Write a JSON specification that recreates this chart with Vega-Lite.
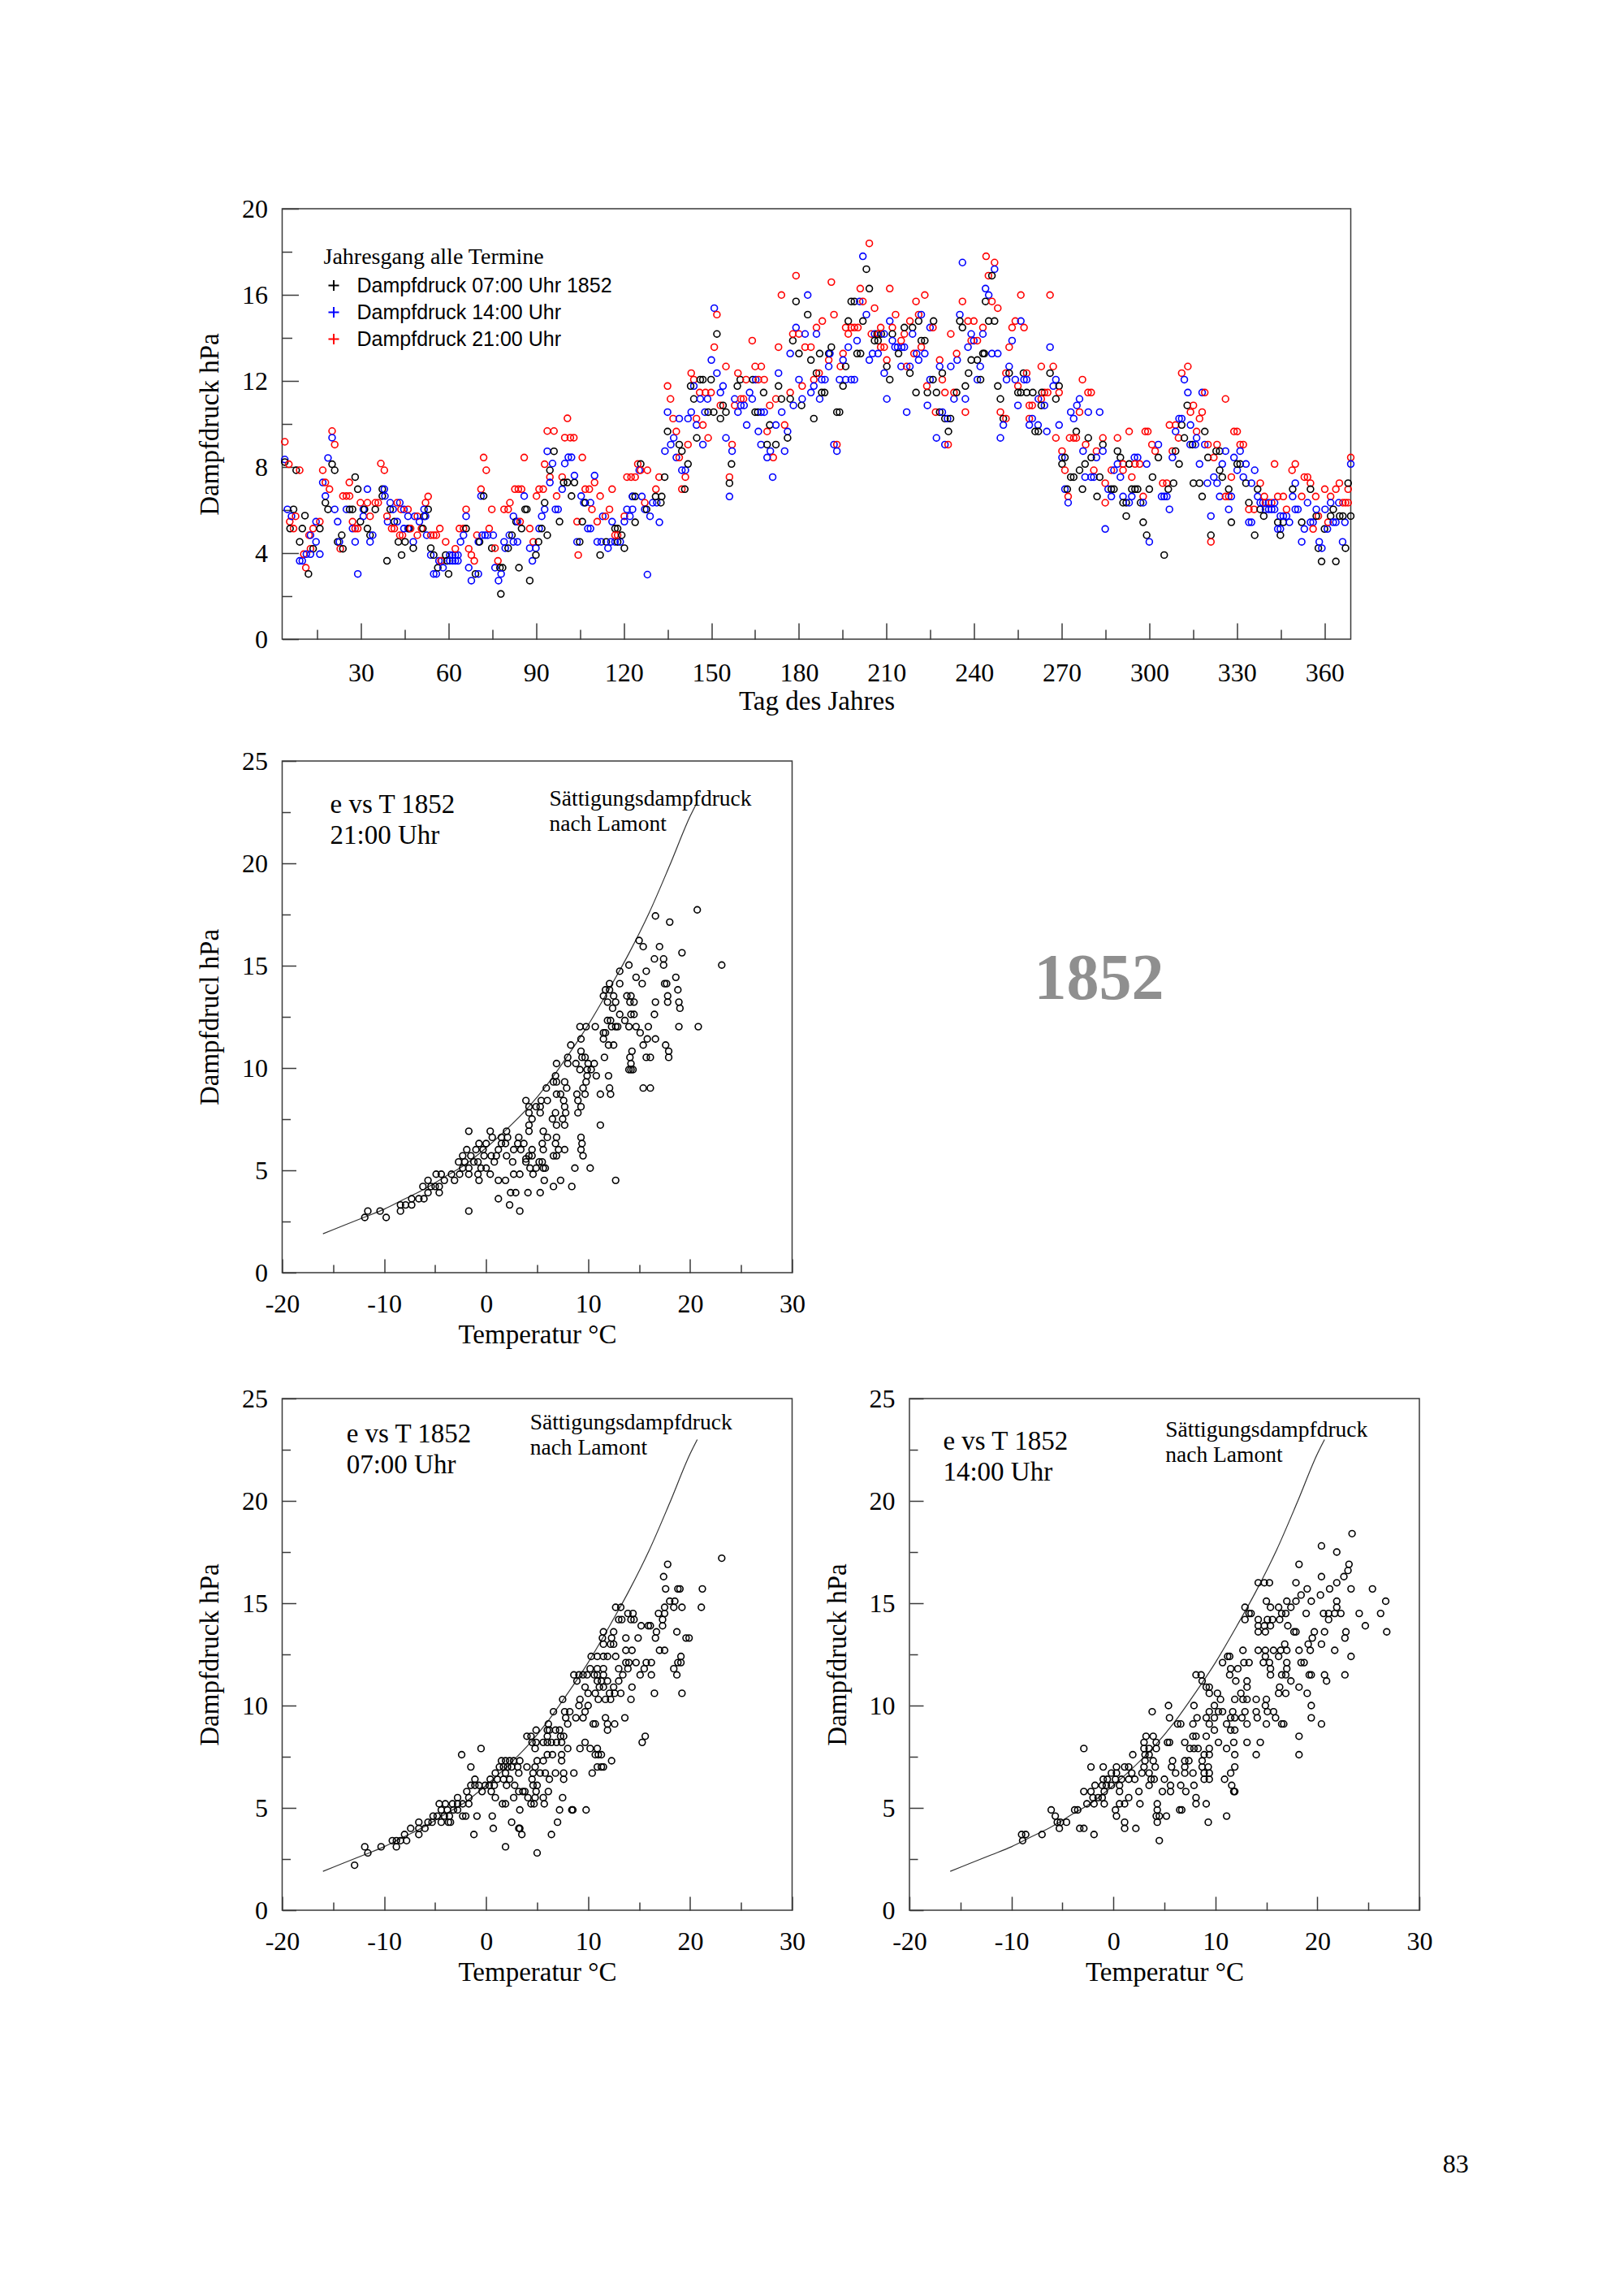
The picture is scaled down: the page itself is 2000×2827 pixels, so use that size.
{
"$schema": "https://vega.github.io/schema/vega-lite/v6.json",
"background": "white",
"autosize": {"type": "pad"},
"padding": {"left": 241.5, "top": 240, "right": 20, "bottom": 20},
"title": {"text": "83", "orient": "bottom", "anchor": "end", "offset": 204, "dx": 44, "font": "Liberation Serif", "fontSize": 32, "fontWeight": "normal", "color": "#000000"},
"config": {
  "font": "Liberation Serif",
  "view": {"stroke": "#3a3a3a", "strokeWidth": 1.5},
  "axis": {"grid": false, "domain": false, "tickColor": "#3a3a3a", "tickWidth": 1.5, "labelFont": "Liberation Serif", "labelFontSize": 32, "labelColor": "#000000", "labelFlush": false, "labelOverlap": false, "titleFont": "Liberation Serif", "titleFontSize": 33, "titleFontWeight": "normal", "titleColor": "#000000"},
  "text": {"font": "Liberation Serif", "color": "#000000"}
},
"datasets": {
"top": [
{"d":3.9,"e":9.17,"s":"c"},{"d":3.9,"e":8.35,"s":"b"},{"d":3.9,"e":8.23,"s":"a"},{"d":5.3,"e":8.13,"s":"c"},{"d":7.8,"e":7.85,"s":"a"},{"d":9.0,"e":7.85,"s":"c"},{"d":4.8,"e":6.03,"s":"b"},{"d":6.9,"e":6.03,"s":"a"},{"d":5.6,"e":5.46,"s":"c"},{"d":6.2,"e":5.71,"s":"b"},{"d":5.7,"e":5.14,"s":"a"},{"d":6.9,"e":5.14,"s":"c"},{"d":9.9,"e":5.14,"s":"a"},{"d":7.6,"e":5.71,"s":"c"},{"d":9.0,"e":4.52,"s":"a"},{"d":10.8,"e":5.74,"s":"a"},{"d":9.0,"e":3.64,"s":"b"},{"d":9.9,"e":3.64,"s":"b"},{"d":10.4,"e":3.95,"s":"c"},{"d":11.3,"e":3.95,"s":"b"},{"d":11.1,"e":3.32,"s":"c"},{"d":12.0,"e":3.03,"s":"a"},{"d":12.2,"e":4.83,"s":"c"},{"d":12.7,"e":4.83,"s":"b"},{"d":12.7,"e":4.2,"s":"c"},{"d":13.6,"e":4.2,"s":"a"},{"d":12.7,"e":3.95,"s":"b"},{"d":13.6,"e":5.14,"s":"c"},{"d":14.6,"e":4.52,"s":"b"},{"d":14.6,"e":5.46,"s":"b"},{"d":15.9,"e":5.46,"s":"c"},{"d":15.9,"e":5.14,"s":"a"},{"d":15.9,"e":3.95,"s":"b"},{"d":16.9,"e":7.85,"s":"c"},{"d":16.9,"e":7.28,"s":"b"},{"d":17.8,"e":7.28,"s":"c"},{"d":19.2,"e":6.97,"s":"c"},{"d":17.8,"e":6.65,"s":"b"},{"d":17.8,"e":6.34,"s":"a"},{"d":18.7,"e":6.03,"s":"a"},{"d":21.0,"e":6.03,"s":"b"},{"d":20.1,"e":9.67,"s":"c"},{"d":20.1,"e":9.36,"s":"b"},{"d":21.0,"e":9.04,"s":"c"},{"d":18.7,"e":8.42,"s":"b"},{"d":20.1,"e":8.13,"s":"a"},{"d":21.0,"e":7.85,"s":"a"},{"d":22.0,"e":4.52,"s":"a"},{"d":22.6,"e":4.52,"s":"b"},{"d":23.4,"e":4.83,"s":"a"},{"d":22.9,"e":4.2,"s":"c"},{"d":23.8,"e":4.2,"s":"a"},{"d":23.8,"e":6.65,"s":"c"},{"d":25.0,"e":6.65,"s":"c"},{"d":26.1,"e":6.65,"s":"c"},{"d":25.0,"e":6.03,"s":"b"},{"d":26.1,"e":6.03,"s":"a"},{"d":27.1,"e":6.03,"s":"a"},{"d":26.0,"e":7.28,"s":"c"},{"d":22.0,"e":5.46,"s":"b"},{"d":28.0,"e":7.53,"s":"a"},{"d":28.9,"e":6.97,"s":"a"},{"d":32.2,"e":6.97,"s":"b"},{"d":27.1,"e":5.46,"s":"c"},{"d":27.1,"e":5.14,"s":"b"},{"d":28.0,"e":5.14,"s":"c"},{"d":28.9,"e":5.14,"s":"c"},{"d":28.0,"e":4.52,"s":"b"},{"d":28.9,"e":3.03,"s":"b"},{"d":29.8,"e":6.34,"s":"c"},{"d":29.8,"e":5.46,"s":"a"},{"d":30.8,"e":6.03,"s":"b"},{"d":30.8,"e":5.71,"s":"b"},{"d":31.2,"e":6.03,"s":"a"},{"d":32.2,"e":6.34,"s":"c"},{"d":33.1,"e":5.71,"s":"c"},{"d":32.2,"e":5.14,"s":"a"},{"d":33.1,"e":4.83,"s":"a"},{"d":33.1,"e":4.52,"s":"b"},{"d":34.0,"e":4.83,"s":"b"},{"d":34.9,"e":6.34,"s":"c"},{"d":34.9,"e":6.03,"s":"a"},{"d":35.9,"e":6.34,"s":"c"},{"d":36.8,"e":8.16,"s":"c"},{"d":38.0,"e":7.85,"s":"c"},{"d":37.3,"e":6.97,"s":"a"},{"d":38.0,"e":6.97,"s":"b"},{"d":37.3,"e":6.65,"s":"a"},{"d":38.2,"e":6.65,"s":"b"},{"d":39.1,"e":5.46,"s":"b"},{"d":38.9,"e":5.71,"s":"c"},{"d":38.9,"e":3.64,"s":"a"},{"d":40.0,"e":6.34,"s":"b"},{"d":42.4,"e":6.34,"s":"c"},{"d":43.3,"e":6.34,"s":"b"},{"d":40.0,"e":6.03,"s":"a"},{"d":41.0,"e":6.03,"s":"b"},{"d":40.5,"e":5.14,"s":"c"},{"d":41.4,"e":5.46,"s":"a"},{"d":42.4,"e":5.46,"s":"b"},{"d":41.4,"e":5.14,"s":"c"},{"d":42.8,"e":4.52,"s":"a"},{"d":43.9,"e":3.91,"s":"a"},{"d":43.3,"e":4.83,"s":"c"},{"d":44.2,"e":4.83,"s":"c"},{"d":45.1,"e":4.52,"s":"a"},{"d":47.9,"e":4.52,"s":"b"},{"d":43.7,"e":6.03,"s":"c"},{"d":44.7,"e":6.03,"s":"b"},{"d":46.1,"e":6.03,"s":"c"},{"d":44.7,"e":5.14,"s":"b"},{"d":46.1,"e":5.14,"s":"b"},{"d":46.5,"e":5.14,"s":"a"},{"d":47.0,"e":5.14,"s":"c"},{"d":46.1,"e":5.71,"s":"b"},{"d":48.4,"e":5.71,"s":"b"},{"d":49.3,"e":5.71,"s":"c"},{"d":51.6,"e":5.71,"s":"a"},{"d":47.9,"e":4.23,"s":"a"},{"d":49.3,"e":4.83,"s":"c"},{"d":50.0,"e":5.46,"s":"b"},{"d":52.1,"e":6.34,"s":"c"},{"d":53.0,"e":6.63,"s":"c"},{"d":51.6,"e":6.03,"s":"b"},{"d":53.0,"e":6.03,"s":"a"},{"d":52.1,"e":5.71,"s":"b"},{"d":50.7,"e":5.14,"s":"c"},{"d":51.2,"e":5.14,"s":"a"},{"d":52.5,"e":4.83,"s":"b"},{"d":53.9,"e":4.83,"s":"c"},{"d":54.9,"e":4.83,"s":"c"},{"d":55.8,"e":4.83,"s":"c"},{"d":57.0,"e":5.14,"s":"c"},{"d":53.9,"e":4.23,"s":"a"},{"d":53.9,"e":3.91,"s":"b"},{"d":54.9,"e":3.91,"s":"a"},{"d":54.9,"e":3.03,"s":"b"},{"d":55.8,"e":3.03,"s":"b"},{"d":56.3,"e":3.32,"s":"a"},{"d":56.7,"e":3.64,"s":"b"},{"d":57.6,"e":3.64,"s":"b"},{"d":57.4,"e":3.64,"s":"c"},{"d":58.1,"e":3.32,"s":"b"},{"d":59.0,"e":4.52,"s":"c"},{"d":59.0,"e":3.91,"s":"a"},{"d":60.0,"e":3.03,"s":"a"},{"d":60.4,"e":3.91,"s":"b"},{"d":61.4,"e":3.91,"s":"b"},{"d":62.3,"e":3.91,"s":"b"},{"d":63.2,"e":3.91,"s":"b"},{"d":59.5,"e":3.64,"s":"a"},{"d":60.4,"e":3.64,"s":"b"},{"d":61.4,"e":3.64,"s":"b"},{"d":62.3,"e":3.64,"s":"b"},{"d":63.2,"e":3.64,"s":"b"},{"d":62.3,"e":4.2,"s":"c"},{"d":63.7,"e":5.14,"s":"c"},{"d":65.1,"e":5.14,"s":"c"},{"d":66.0,"e":5.14,"s":"a"},{"d":65.1,"e":4.83,"s":"b"},{"d":64.1,"e":4.52,"s":"b"},{"d":66.0,"e":6.03,"s":"c"},{"d":66.0,"e":5.71,"s":"b"},{"d":66.9,"e":4.2,"s":"c"},{"d":67.8,"e":3.91,"s":"c"},{"d":68.8,"e":3.64,"s":"c"},{"d":66.9,"e":3.32,"s":"b"},{"d":67.8,"e":2.72,"s":"b"},{"d":69.2,"e":3.03,"s":"a"},{"d":70.2,"e":3.03,"s":"b"},{"d":69.7,"e":4.83,"s":"c"},{"d":70.2,"e":4.52,"s":"b"},{"d":70.6,"e":4.52,"s":"a"},{"d":71.5,"e":4.83,"s":"b"},{"d":72.5,"e":4.83,"s":"b"},{"d":73.4,"e":4.83,"s":"b"},{"d":75.3,"e":4.83,"s":"b"},{"d":71.1,"e":6.97,"s":"c"},{"d":71.1,"e":6.65,"s":"b"},{"d":72.0,"e":6.65,"s":"a"},{"d":72.0,"e":8.44,"s":"c"},{"d":72.9,"e":7.85,"s":"c"},{"d":73.9,"e":5.14,"s":"c"},{"d":74.8,"e":6.03,"s":"c"},{"d":74.8,"e":4.23,"s":"a"},{"d":75.9,"e":4.23,"s":"c"},{"d":75.9,"e":3.32,"s":"b"},{"d":76.9,"e":3.64,"s":"c"},{"d":77.6,"e":3.32,"s":"a"},{"d":77.1,"e":2.72,"s":"b"},{"d":78.5,"e":3.32,"s":"a"},{"d":78.0,"e":3.03,"s":"b"},{"d":77.9,"e":2.1,"s":"a"},{"d":79.0,"e":4.52,"s":"b"},{"d":79.4,"e":4.23,"s":"b"},{"d":80.4,"e":4.23,"s":"a"},{"d":80.8,"e":4.83,"s":"b"},{"d":81.7,"e":4.83,"s":"a"},{"d":82.2,"e":4.52,"s":"b"},{"d":83.6,"e":4.52,"s":"b"},{"d":79.0,"e":6.03,"s":"c"},{"d":80.4,"e":6.03,"s":"c"},{"d":81.0,"e":6.34,"s":"c"},{"d":82.2,"e":5.71,"s":"b"},{"d":82.7,"e":6.97,"s":"c"},{"d":83.9,"e":6.97,"s":"c"},{"d":85.0,"e":6.97,"s":"c"},{"d":83.1,"e":5.46,"s":"a"},{"d":83.6,"e":5.46,"s":"b"},{"d":84.5,"e":5.46,"s":"c"},{"d":85.0,"e":5.14,"s":"a"},{"d":84.1,"e":3.32,"s":"a"},{"d":85.9,"e":6.65,"s":"b"},{"d":85.9,"e":8.44,"s":"c"},{"d":86.2,"e":6.03,"s":"a"},{"d":86.8,"e":6.03,"s":"a"},{"d":87.8,"e":5.14,"s":"c"},{"d":87.8,"e":4.23,"s":"b"},{"d":88.7,"e":3.64,"s":"b"},{"d":89.0,"e":4.52,"s":"c"},{"d":89.9,"e":4.23,"s":"b"},{"d":89.9,"e":3.91,"s":"a"},{"d":90.8,"e":4.52,"s":"a"},{"d":87.8,"e":2.72,"s":"a"},{"d":90.1,"e":6.65,"s":"c"},{"d":91.0,"e":6.97,"s":"c"},{"d":92.4,"e":6.97,"s":"c"},{"d":91.0,"e":5.14,"s":"b"},{"d":91.9,"e":5.14,"s":"a"},{"d":93.8,"e":4.83,"s":"a"},{"d":91.9,"e":5.71,"s":"b"},{"d":92.9,"e":6.03,"s":"b"},{"d":92.9,"e":6.34,"s":"a"},{"d":92.9,"e":8.13,"s":"c"},{"d":94.7,"e":7.53,"s":"c"},{"d":94.7,"e":7.85,"s":"a"},{"d":93.8,"e":8.73,"s":"b"},{"d":96.1,"e":8.73,"s":"a"},{"d":93.8,"e":9.67,"s":"c"},{"d":96.1,"e":9.67,"s":"c"},{"d":94.7,"e":7.28,"s":"b"},{"d":95.6,"e":8.16,"s":"b"},{"d":97.0,"e":6.65,"s":"c"},{"d":96.6,"e":6.03,"s":"b"},{"d":97.5,"e":6.03,"s":"b"},{"d":98.0,"e":5.46,"s":"a"},{"d":98.9,"e":6.97,"s":"b"},{"d":98.9,"e":7.53,"s":"c"},{"d":99.4,"e":7.28,"s":"a"},{"d":100.7,"e":7.28,"s":"a"},{"d":103.1,"e":7.28,"s":"a"},{"d":99.8,"e":8.16,"s":"b"},{"d":101.0,"e":8.45,"s":"b"},{"d":102.1,"e":8.45,"s":"b"},{"d":100.7,"e":10.26,"s":"c"},{"d":99.8,"e":9.36,"s":"c"},{"d":101.7,"e":9.36,"s":"c"},{"d":102.9,"e":9.36,"s":"c"},{"d":102.1,"e":6.65,"s":"a"},{"d":103.1,"e":7.6,"s":"b"},{"d":104.0,"e":5.46,"s":"c"},{"d":105.8,"e":5.46,"s":"a"},{"d":104.4,"e":3.91,"s":"c"},{"d":104.0,"e":4.52,"s":"b"},{"d":104.9,"e":4.52,"s":"a"},{"d":105.8,"e":8.44,"s":"c"},{"d":105.4,"e":6.65,"s":"b"},{"d":106.3,"e":6.34,"s":"b"},{"d":106.8,"e":6.34,"s":"a"},{"d":108.6,"e":6.34,"s":"b"},{"d":107.7,"e":5.14,"s":"b"},{"d":108.6,"e":5.14,"s":"b"},{"d":106.8,"e":6.97,"s":"c"},{"d":108.2,"e":6.97,"s":"c"},{"d":109.1,"e":6.03,"s":"c"},{"d":110.0,"e":7.28,"s":"c"},{"d":110.0,"e":7.6,"s":"b"},{"d":110.9,"e":5.46,"s":"c"},{"d":111.9,"e":6.65,"s":"c"},{"d":111.9,"e":3.91,"s":"a"},{"d":110.9,"e":4.52,"s":"b"},{"d":112.3,"e":4.52,"s":"b"},{"d":112.8,"e":5.71,"s":"b"},{"d":113.7,"e":5.71,"s":"c"},{"d":114.0,"e":4.52,"s":"a"},{"d":114.6,"e":4.23,"s":"b"},{"d":115.6,"e":4.52,"s":"b"},{"d":117.0,"e":4.52,"s":"b"},{"d":117.9,"e":4.52,"s":"a"},{"d":118.8,"e":4.52,"s":"b"},{"d":115.1,"e":6.03,"s":"c"},{"d":116.0,"e":6.97,"s":"c"},{"d":116.0,"e":5.46,"s":"b"},{"d":117.0,"e":5.14,"s":"a"},{"d":117.9,"e":5.14,"s":"a"},{"d":117.0,"e":4.83,"s":"c"},{"d":117.9,"e":4.83,"s":"c"},{"d":119.3,"e":4.83,"s":"a"},{"d":120.2,"e":4.23,"s":"a"},{"d":120.2,"e":5.71,"s":"c"},{"d":120.2,"e":5.46,"s":"b"},{"d":121.1,"e":6.03,"s":"b"},{"d":121.1,"e":7.53,"s":"c"},{"d":122.1,"e":5.71,"s":"b"},{"d":122.5,"e":7.53,"s":"c"},{"d":123.0,"e":6.63,"s":"a"},
{"d":123.0,"e":6.63,"s":"b"},{"d":123.9,"e":6.63,"s":"a"},{"d":126.2,"e":6.63,"s":"b"},{"d":123.0,"e":6.03,"s":"b"},{"d":123.9,"e":5.43,"s":"a"},{"d":123.9,"e":7.53,"s":"c"},{"d":124.8,"e":8.14,"s":"c"},{"d":125.8,"e":8.14,"s":"a"},{"d":125.3,"e":7.85,"s":"b"},{"d":125.8,"e":7.85,"s":"c"},{"d":128.1,"e":7.85,"s":"c"},{"d":127.2,"e":6.34,"s":"c"},{"d":127.2,"e":6.03,"s":"b"},{"d":127.8,"e":6.03,"s":"a"},{"d":129.0,"e":5.71,"s":"b"},{"d":129.9,"e":6.34,"s":"b"},{"d":131.3,"e":6.34,"s":"b"},{"d":132.7,"e":6.34,"s":"a"},{"d":132.2,"e":5.43,"s":"b"},{"d":131.0,"e":6.97,"s":"c"},{"d":130.9,"e":6.63,"s":"a"},{"d":133.0,"e":6.63,"s":"a"},{"d":128.1,"e":3.0,"s":"b"},{"d":132.1,"e":7.53,"s":"c"},{"d":134.0,"e":7.53,"s":"a"},{"d":134.1,"e":8.74,"s":"b"},{"d":135.0,"e":11.76,"s":"c"},{"d":136.0,"e":11.16,"s":"c"},{"d":135.0,"e":10.55,"s":"b"},{"d":135.0,"e":9.65,"s":"a"},{"d":136.1,"e":9.04,"s":"b"},{"d":137.1,"e":9.35,"s":"b"},{"d":138.0,"e":9.65,"s":"c"},{"d":136.9,"e":10.25,"s":"c"},{"d":139.0,"e":10.25,"s":"b"},{"d":138.0,"e":8.44,"s":"b"},{"d":139.0,"e":8.44,"s":"c"},{"d":139.0,"e":9.04,"s":"a"},{"d":139.9,"e":8.74,"s":"a"},{"d":142.0,"e":9.04,"s":"c"},{"d":139.9,"e":7.85,"s":"b"},{"d":141.1,"e":7.85,"s":"b"},{"d":141.1,"e":7.53,"s":"c"},{"d":139.9,"e":6.97,"s":"c"},{"d":140.9,"e":6.97,"s":"a"},{"d":142.0,"e":8.14,"s":"a"},{"d":142.0,"e":10.25,"s":"b"},{"d":143.1,"e":10.55,"s":"b"},{"d":143.1,"e":12.36,"s":"c"},{"d":144.0,"e":12.06,"s":"c"},{"d":144.0,"e":11.76,"s":"b"},{"d":142.9,"e":11.76,"s":"a"},{"d":144.9,"e":10.25,"s":"c"},{"d":144.9,"e":9.95,"s":"b"},{"d":147.1,"e":9.95,"s":"c"},{"d":145.0,"e":9.35,"s":"a"},{"d":147.1,"e":9.04,"s":"b"},{"d":148.9,"e":9.35,"s":"c"},{"d":144.0,"e":11.16,"s":"a"},{"d":146.0,"e":11.46,"s":"c"},{"d":146.2,"e":11.16,"s":"b"},{"d":146.2,"e":12.06,"s":"a"},{"d":147.1,"e":12.06,"s":"a"},{"d":148.0,"e":11.46,"s":"c"},{"d":149.9,"e":11.46,"s":"c"},{"d":148.7,"e":11.16,"s":"b"},{"d":147.8,"e":10.55,"s":"b"},{"d":148.9,"e":10.55,"s":"a"},{"d":150.8,"e":10.55,"s":"a"},{"d":149.9,"e":12.06,"s":"a"},{"d":151.0,"e":15.38,"s":"b"},{"d":151.9,"e":15.08,"s":"c"},{"d":151.9,"e":14.18,"s":"a"},{"d":151.0,"e":13.57,"s":"c"},{"d":150.0,"e":12.97,"s":"b"},{"d":151.9,"e":12.36,"s":"b"},{"d":153.1,"e":11.46,"s":"b"},{"d":154.0,"e":11.76,"s":"b"},{"d":153.1,"e":10.86,"s":"c"},{"d":154.0,"e":10.86,"s":"a"},{"d":153.1,"e":10.25,"s":"a"},{"d":155.0,"e":10.55,"s":"a"},{"d":155.0,"e":12.67,"s":"c"},{"d":155.0,"e":9.35,"s":"b"},{"d":157.1,"e":9.04,"s":"c"},{"d":157.1,"e":8.74,"s":"b"},{"d":156.9,"e":8.14,"s":"a"},{"d":156.2,"e":7.53,"s":"c"},{"d":156.2,"e":7.25,"s":"a"},{"d":156.2,"e":6.63,"s":"b"},{"d":158.0,"e":10.86,"s":"c"},{"d":158.0,"e":11.16,"s":"b"},{"d":158.9,"e":11.76,"s":"a"},{"d":159.9,"e":12.06,"s":"a"},{"d":159.1,"e":12.36,"s":"c"},{"d":160.1,"e":11.16,"s":"c"},{"d":159.1,"e":10.55,"s":"b"},{"d":160.1,"e":10.86,"s":"b"},{"d":161.0,"e":11.16,"s":"c"},{"d":161.2,"e":10.86,"s":"b"},{"d":161.9,"e":12.06,"s":"c"},{"d":163.1,"e":11.46,"s":"b"},{"d":164.0,"e":11.16,"s":"b"},{"d":164.0,"e":13.87,"s":"c"},{"d":164.2,"e":12.06,"s":"a"},{"d":165.2,"e":12.06,"s":"b"},{"d":165.0,"e":12.67,"s":"c"},{"d":166.1,"e":12.06,"s":"c"},{"d":167.1,"e":12.67,"s":"c"},{"d":168.1,"e":12.06,"s":"c"},{"d":167.9,"e":11.46,"s":"a"},{"d":165.0,"e":10.55,"s":"a"},{"d":165.9,"e":10.55,"s":"a"},{"d":167.0,"e":10.55,"s":"b"},{"d":168.1,"e":10.55,"s":"b"},{"d":162.1,"e":9.95,"s":"b"},{"d":166.1,"e":9.65,"s":"b"},{"d":167.0,"e":9.04,"s":"b"},{"d":169.1,"e":9.04,"s":"a"},{"d":170.2,"e":8.74,"s":"b"},{"d":172.1,"e":9.04,"s":"a"},{"d":171.2,"e":8.44,"s":"c"},{"d":169.1,"e":8.44,"s":"b"},{"d":171.0,"e":7.53,"s":"b"},{"d":169.1,"e":9.65,"s":"c"},{"d":170.0,"e":9.95,"s":"a"},{"d":172.1,"e":9.95,"s":"b"},{"d":170.0,"e":10.86,"s":"c"},{"d":172.1,"e":11.16,"s":"c"},{"d":174.0,"e":11.16,"s":"a"},{"d":174.1,"e":10.55,"s":"b"},{"d":173.0,"e":11.76,"s":"a"},{"d":173.0,"e":12.36,"s":"b"},{"d":173.0,"e":13.57,"s":"c"},{"d":174.0,"e":15.99,"s":"c"},{"d":175.1,"e":9.95,"s":"c"},{"d":176.1,"e":9.65,"s":"b"},{"d":176.1,"e":9.35,"s":"a"},{"d":175.1,"e":8.74,"s":"b"},{"d":177.0,"e":11.46,"s":"c"},{"d":177.0,"e":11.16,"s":"a"},{"d":177.9,"e":13.87,"s":"a"},{"d":179.0,"e":14.48,"s":"b"},{"d":177.9,"e":14.18,"s":"c"},{"d":180.0,"e":14.18,"s":"c"},{"d":182.1,"e":14.18,"s":"b"},{"d":180.0,"e":13.27,"s":"a"},{"d":177.0,"e":13.27,"s":"b"},{"d":179.0,"e":15.69,"s":"a"},{"d":179.0,"e":16.89,"s":"c"},{"d":178.1,"e":10.86,"s":"b"},{"d":180.9,"e":10.86,"s":"a"},{"d":181.1,"e":11.16,"s":"b"},{"d":181.1,"e":11.76,"s":"c"},{"d":180.0,"e":12.06,"s":"b"},{"d":183.0,"e":15.99,"s":"b"},{"d":183.0,"e":15.08,"s":"a"},{"d":182.1,"e":13.57,"s":"c"},{"d":184.1,"e":13.57,"s":"c"},{"d":184.1,"e":12.97,"s":"a"},{"d":185.1,"e":12.06,"s":"c"},{"d":185.1,"e":11.76,"s":"b"},{"d":184.1,"e":11.46,"s":"b"},{"d":187.1,"e":11.16,"s":"b"},{"d":186.0,"e":12.36,"s":"a"},{"d":186.9,"e":12.36,"s":"c"},{"d":187.8,"e":11.46,"s":"a"},{"d":188.8,"e":11.46,"s":"a"},{"d":187.8,"e":12.06,"s":"b"},{"d":188.9,"e":12.06,"s":"b"},{"d":185.1,"e":10.25,"s":"a"},{"d":186.0,"e":14.48,"s":"c"},{"d":186.0,"e":14.18,"s":"b"},{"d":188.0,"e":14.78,"s":"c"},{"d":187.1,"e":13.27,"s":"a"},{"d":190.2,"e":12.97,"s":"c"},{"d":190.2,"e":12.67,"s":"b"},{"d":190.2,"e":13.27,"s":"a"},{"d":190.6,"e":13.27,"s":"b"},{"d":191.1,"e":13.57,"s":"a"},{"d":191.1,"e":16.59,"s":"c"},{"d":192.0,"e":15.08,"s":"c"},{"d":192.0,"e":9.04,"s":"b"},{"d":193.0,"e":9.04,"s":"c"},{"d":193.0,"e":8.74,"s":"b"},{"d":193.0,"e":10.55,"s":"a"},{"d":193.9,"e":10.55,"s":"a"},{"d":194.2,"e":12.67,"s":"c"},{"d":196.0,"e":12.67,"s":"a"},{"d":195.1,"e":13.27,"s":"c"},{"d":195.1,"e":12.97,"s":"b"},{"d":193.9,"e":12.06,"s":"b"},{"d":196.0,"e":12.06,"s":"b"},{"d":195.1,"e":11.76,"s":"a"},{"d":196.0,"e":14.48,"s":"c"},{"d":196.9,"e":14.18,"s":"c"},{"d":196.9,"e":14.78,"s":"a"},{"d":196.9,"e":13.57,"s":"b"},{"d":197.9,"e":14.48,"s":"c"},{"d":199.0,"e":14.48,"s":"c"},{"d":200.2,"e":14.48,"s":"c"},{"d":197.9,"e":12.06,"s":"b"},{"d":199.0,"e":12.06,"s":"b"},{"d":197.9,"e":15.69,"s":"a"},{"d":199.0,"e":15.69,"s":"a"},{"d":200.8,"e":15.69,"s":"b"},{"d":201.9,"e":15.69,"s":"c"},{"d":201.0,"e":16.29,"s":"c"},{"d":201.9,"e":17.79,"s":"b"},{"d":204.1,"e":18.39,"s":"c"},{"d":203.1,"e":17.19,"s":"a"},{"d":204.1,"e":16.29,"s":"a"},{"d":199.9,"e":13.87,"s":"b"},{"d":199.9,"e":13.27,"s":"a"},{"d":201.1,"e":13.27,"s":"a"},{"d":203.1,"e":15.08,"s":"b"},{"d":201.9,"e":14.78,"s":"a"},{"d":205.9,"e":15.38,"s":"c"},{"d":204.1,"e":12.97,"s":"b"},{"d":205.2,"e":13.27,"s":"b"},{"d":204.8,"e":14.18,"s":"c"},{"d":205.9,"e":14.18,"s":"b"},{"d":206.8,"e":14.18,"s":"a"},{"d":207.3,"e":14.18,"s":"c"},{"d":208.2,"e":14.18,"s":"a"},{"d":209.2,"e":14.18,"s":"b"},{"d":205.9,"e":13.87,"s":"a"},{"d":207.1,"e":13.87,"s":"a"},{"d":208.0,"e":13.57,"s":"c"},{"d":209.2,"e":13.57,"s":"c"},{"d":207.1,"e":13.27,"s":"b"},{"d":208.0,"e":14.48,"s":"c"},{"d":210.1,"e":12.97,"s":"c"},{"d":210.1,"e":12.67,"s":"a"},{"d":209.2,"e":12.36,"s":"b"},{"d":211.1,"e":12.06,"s":"a"},{"d":210.1,"e":11.16,"s":"b"},{"d":211.1,"e":16.29,"s":"c"},{"d":211.1,"e":14.78,"s":"b"},{"d":212.0,"e":14.48,"s":"c"},{"d":212.0,"e":14.18,"s":"a"},{"d":212.0,"e":13.87,"s":"b"},{"d":213.1,"e":15.08,"s":"c"},{"d":212.9,"e":13.57,"s":"b"},{"d":213.8,"e":13.57,"s":"b"},{"d":214.1,"e":13.27,"s":"a"},{"d":215.2,"e":13.57,"s":"b"},{"d":216.1,"e":13.57,"s":"b"},{"d":215.0,"e":13.87,"s":"c"},{"d":216.1,"e":14.18,"s":"c"},{"d":216.1,"e":14.48,"s":"a"},{"d":215.0,"e":12.67,"s":"b"},{"d":216.9,"e":12.67,"s":"c"},{"d":218.0,"e":12.67,"s":"b"},{"d":218.0,"e":12.36,"s":"a"},{"d":216.9,"e":10.55,"s":"b"},{"d":218.0,"e":14.78,"s":"c"},{"d":218.9,"e":14.48,"s":"a"},{"d":218.9,"e":14.18,"s":"b"},{"d":219.4,"e":13.27,"s":"c"},{"d":220.3,"e":13.27,"s":"b"},{"d":221.0,"e":12.97,"s":"b"},{"d":220.1,"e":15.69,"s":"c"},{"d":221.0,"e":14.78,"s":"a"},{"d":221.0,"e":15.08,"s":"c"},{"d":221.9,"e":15.08,"s":"b"},{"d":223.1,"e":15.99,"s":"c"},{"d":221.9,"e":13.87,"s":"a"},{"d":223.1,"e":13.87,"s":"a"},{"d":221.9,"e":13.57,"s":"c"},{"d":223.1,"e":13.27,"s":"b"},{"d":220.1,"e":11.46,"s":"a"},{"d":224.0,"e":11.46,"s":"a"},{"d":227.1,"e":11.46,"s":"a"},{"d":223.8,"e":11.76,"s":"c"},{"d":224.0,"e":10.86,"s":"b"},{"d":226.8,"e":10.55,"s":"c"},{"d":228.2,"e":10.55,"s":"a"},{"d":229.1,"e":10.55,"s":"b"},{"d":224.9,"e":12.06,"s":"b"},{"d":225.9,"e":12.06,"s":"a"},{"d":229.1,"e":12.06,"s":"c"},{"d":229.1,"e":12.36,"s":"a"},{"d":228.2,"e":12.97,"s":"c"},{"d":228.2,"e":12.67,"s":"b"},{"d":224.9,"e":14.48,"s":"b"},{"d":225.9,"e":14.48,"s":"c"},{"d":226.1,"e":14.78,"s":"a"},{"d":230.0,"e":11.46,"s":"c"},{"d":233.1,"e":11.16,"s":"b"},{"d":233.1,"e":11.46,"s":"c"},{"d":234.0,"e":11.46,"s":"a"},{"d":237.0,"e":11.16,"s":"b"},{"d":237.0,"e":11.76,"s":"a"},{"d":237.0,"e":10.55,"s":"c"},{"d":230.0,"e":10.25,"s":"a"},{"d":230.9,"e":10.25,"s":"b"},{"d":231.9,"e":10.25,"s":"a"},{"d":231.2,"e":9.65,"s":"a"},{"d":227.1,"e":9.35,"s":"b"},{"d":230.0,"e":9.04,"s":"b"},{"d":231.1,"e":9.04,"s":"c"},{"d":232.0,"e":14.18,"s":"c"},{"d":232.0,"e":12.67,"s":"b"},{"d":234.2,"e":12.97,"s":"b"},{"d":234.0,"e":13.27,"s":"c"},{"d":237.9,"e":13.57,"s":"b"},{"d":238.1,"e":12.36,"s":"a"},{"d":235.1,"e":15.08,"s":"b"},{"d":235.1,"e":14.78,"s":"a"},{"d":236.0,"e":14.48,"s":"a"},{"d":236.0,"e":15.69,"s":"c"},{"d":236.0,"e":17.5,"s":"b"},{"d":237.9,"e":14.78,"s":"c"},{"d":239.9,"e":14.78,"s":"c"},{"d":239.0,"e":14.18,"s":"b"},{"d":239.0,"e":13.87,"s":"c"},{"d":239.9,"e":13.87,"s":"b"},{"d":241.1,"e":13.87,"s":"c"},{"d":239.0,"e":12.97,"s":"a"},{"d":241.1,"e":12.97,"s":"a"},{"d":243.0,"e":13.27,"s":"a"},{"d":242.1,"e":12.67,"s":"b"},{"d":241.1,"e":12.06,"s":"b"},{"d":242.2,"e":12.06,"s":"a"},{"d":243.0,"e":14.48,"s":"c"},{"d":243.0,"e":14.18,"s":"b"},
{"d":244.1,"e":17.79,"s":"c"},{"d":247.0,"e":17.5,"s":"c"},{"d":247.0,"e":17.19,"s":"b"},{"d":244.9,"e":16.89,"s":"c"},{"d":246.1,"e":16.89,"s":"a"},{"d":243.9,"e":16.29,"s":"b"},{"d":245.0,"e":15.99,"s":"b"},{"d":243.9,"e":15.69,"s":"a"},{"d":246.1,"e":15.69,"s":"c"},{"d":248.1,"e":15.38,"s":"c"},{"d":245.0,"e":14.78,"s":"a"},{"d":247.0,"e":14.78,"s":"a"},{"d":243.5,"e":13.27,"s":"a"},{"d":246.1,"e":13.27,"s":"b"},{"d":248.1,"e":13.27,"s":"b"},{"d":256.0,"e":15.99,"s":"c"},{"d":266.0,"e":15.99,"s":"c"},{"d":253.0,"e":14.48,"s":"c"},{"d":254.1,"e":14.78,"s":"c"},{"d":256.0,"e":14.78,"s":"b"},{"d":257.1,"e":14.48,"s":"c"},{"d":253.0,"e":13.87,"s":"b"},{"d":252.0,"e":13.57,"s":"c"},{"d":266.0,"e":13.57,"s":"b"},{"d":252.0,"e":12.67,"s":"b"},{"d":250.9,"e":12.36,"s":"c"},{"d":252.0,"e":12.36,"s":"a"},{"d":251.1,"e":12.06,"s":"b"},{"d":254.1,"e":12.06,"s":"b"},{"d":256.9,"e":12.36,"s":"a"},{"d":258.0,"e":12.36,"s":"c"},{"d":257.1,"e":12.06,"s":"b"},{"d":258.0,"e":12.06,"s":"b"},{"d":263.0,"e":12.67,"s":"c"},{"d":267.1,"e":12.67,"s":"c"},{"d":266.0,"e":12.36,"s":"a"},{"d":268.0,"e":12.06,"s":"b"},{"d":267.1,"e":11.76,"s":"b"},{"d":269.1,"e":11.76,"s":"a"},{"d":269.1,"e":11.46,"s":"c"},{"d":248.1,"e":11.76,"s":"a"},{"d":249.0,"e":11.16,"s":"a"},{"d":255.0,"e":11.76,"s":"c"},{"d":255.0,"e":11.46,"s":"a"},{"d":256.0,"e":11.46,"s":"a"},{"d":258.0,"e":11.46,"s":"a"},{"d":260.1,"e":11.46,"s":"a"},{"d":264.1,"e":11.46,"s":"c"},{"d":263.2,"e":11.46,"s":"a"},{"d":265.2,"e":11.46,"s":"c"},{"d":255.0,"e":10.86,"s":"b"},{"d":258.9,"e":10.86,"s":"c"},{"d":259.9,"e":10.86,"s":"c"},{"d":262.0,"e":11.16,"s":"b"},{"d":263.0,"e":11.16,"s":"c"},{"d":263.0,"e":10.86,"s":"a"},{"d":264.1,"e":10.86,"s":"b"},{"d":268.0,"e":11.16,"s":"a"},{"d":249.0,"e":10.55,"s":"c"},{"d":250.0,"e":10.25,"s":"a"},{"d":250.9,"e":10.25,"s":"c"},{"d":250.0,"e":9.95,"s":"b"},{"d":249.0,"e":9.35,"s":"b"},{"d":258.9,"e":10.25,"s":"c"},{"d":259.9,"e":10.25,"s":"b"},{"d":258.9,"e":9.95,"s":"b"},{"d":261.9,"e":9.95,"s":"b"},{"d":260.9,"e":9.65,"s":"a"},{"d":262.0,"e":9.65,"s":"a"},{"d":264.9,"e":9.65,"s":"b"},{"d":268.0,"e":9.35,"s":"c"},{"d":269.1,"e":9.95,"s":"b"},{"d":277.1,"e":12.06,"s":"c"},{"d":279.0,"e":11.46,"s":"c"},{"d":280.1,"e":11.46,"s":"c"},{"d":276.1,"e":11.16,"s":"b"},{"d":275.2,"e":10.86,"s":"b"},{"d":276.1,"e":10.55,"s":"c"},{"d":273.1,"e":10.55,"s":"b"},{"d":274.1,"e":10.25,"s":"b"},{"d":279.1,"e":10.55,"s":"b"},{"d":283.0,"e":10.55,"s":"b"},{"d":275.0,"e":9.65,"s":"a"},{"d":279.1,"e":9.35,"s":"a"},{"d":272.7,"e":9.35,"s":"c"},{"d":274.1,"e":9.35,"s":"c"},{"d":275.0,"e":9.35,"s":"c"},{"d":278.2,"e":9.04,"s":"c"},{"d":277.3,"e":8.74,"s":"b"},{"d":281.9,"e":8.74,"s":"c"},{"d":281.9,"e":8.44,"s":"b"},{"d":280.1,"e":8.44,"s":"a"},{"d":284.1,"e":9.35,"s":"c"},{"d":284.1,"e":9.04,"s":"a"},{"d":284.1,"e":8.74,"s":"b"},{"d":270.1,"e":8.74,"s":"c"},{"d":270.1,"e":8.44,"s":"b"},{"d":271.1,"e":8.44,"s":"a"},{"d":270.1,"e":8.14,"s":"a"},{"d":271.1,"e":7.85,"s":"c"},{"d":273.1,"e":7.53,"s":"a"},{"d":274.1,"e":7.53,"s":"a"},{"d":276.1,"e":7.85,"s":"a"},{"d":278.0,"e":8.14,"s":"a"},{"d":281.0,"e":7.85,"s":"c"},{"d":278.0,"e":7.53,"s":"b"},{"d":280.1,"e":7.53,"s":"b"},{"d":281.0,"e":7.53,"s":"b"},{"d":283.0,"e":7.53,"s":"a"},{"d":271.1,"e":6.97,"s":"b"},{"d":271.9,"e":6.97,"s":"a"},{"d":272.2,"e":6.63,"s":"c"},{"d":272.2,"e":6.34,"s":"b"},{"d":277.1,"e":6.97,"s":"a"},{"d":282.1,"e":6.63,"s":"a"},{"d":284.9,"e":7.25,"s":"c"},{"d":285.9,"e":6.97,"s":"b"},{"d":284.9,"e":6.34,"s":"c"},{"d":284.9,"e":5.12,"s":"b"},{"d":287.0,"e":6.97,"s":"a"},{"d":287.0,"e":6.63,"s":"b"},{"d":287.9,"e":6.97,"s":"a"},{"d":289.1,"e":8.74,"s":"a"},{"d":290.1,"e":8.44,"s":"a"},{"d":289.1,"e":9.35,"s":"c"},{"d":289.1,"e":8.14,"s":"b"},{"d":287.0,"e":7.85,"s":"c"},{"d":287.9,"e":7.85,"s":"b"},{"d":291.0,"e":8.14,"s":"c"},{"d":291.0,"e":7.85,"s":"c"},{"d":290.1,"e":7.53,"s":"b"},{"d":293.1,"e":8.14,"s":"a"},{"d":294.0,"e":7.53,"s":"c"},{"d":293.1,"e":9.65,"s":"c"},{"d":298.6,"e":9.65,"s":"c"},{"d":299.5,"e":9.65,"s":"c"},{"d":300.9,"e":9.04,"s":"c"},{"d":303.1,"e":9.04,"s":"b"},{"d":302.0,"e":8.74,"s":"c"},{"d":303.1,"e":8.44,"s":"a"},{"d":294.9,"e":8.44,"s":"b"},{"d":296.0,"e":8.44,"s":"b"},{"d":295.1,"e":8.14,"s":"c"},{"d":296.7,"e":8.14,"s":"c"},{"d":299.1,"e":8.14,"s":"b"},{"d":291.0,"e":6.63,"s":"b"},{"d":291.0,"e":6.34,"s":"a"},{"d":292.1,"e":6.34,"s":"a"},{"d":293.1,"e":6.34,"s":"b"},{"d":294.0,"e":6.97,"s":"a"},{"d":295.1,"e":6.97,"s":"a"},{"d":296.0,"e":6.97,"s":"a"},{"d":294.0,"e":6.63,"s":"b"},{"d":297.9,"e":6.63,"s":"c"},{"d":297.0,"e":6.34,"s":"a"},{"d":297.9,"e":6.34,"s":"b"},{"d":300.0,"e":6.97,"s":"a"},{"d":301.1,"e":7.53,"s":"a"},{"d":292.1,"e":5.72,"s":"a"},{"d":297.9,"e":5.43,"s":"a"},{"d":299.1,"e":4.83,"s":"a"},{"d":300.0,"e":4.52,"s":"b"},{"d":305.1,"e":3.91,"s":"a"},{"d":306.9,"e":9.95,"s":"c"},{"d":309.0,"e":9.95,"s":"c"},{"d":309.0,"e":9.65,"s":"b"},{"d":311.1,"e":9.95,"s":"a"},{"d":310.2,"e":10.25,"s":"b"},{"d":311.1,"e":10.25,"s":"b"},{"d":311.1,"e":12.36,"s":"c"},{"d":313.2,"e":12.67,"s":"c"},{"d":312.0,"e":12.06,"s":"b"},{"d":313.2,"e":11.46,"s":"b"},{"d":318.1,"e":11.46,"s":"b"},{"d":319.0,"e":11.46,"s":"c"},{"d":314.1,"e":9.95,"s":"b"},{"d":313.0,"e":10.86,"s":"a"},{"d":315.1,"e":10.86,"s":"c"},{"d":314.1,"e":10.55,"s":"c"},{"d":318.1,"e":10.55,"s":"c"},{"d":317.2,"e":10.25,"s":"c"},{"d":316.2,"e":9.65,"s":"c"},{"d":316.2,"e":9.35,"s":"b"},{"d":319.0,"e":9.65,"s":"a"},{"d":310.0,"e":9.35,"s":"c"},{"d":312.0,"e":9.35,"s":"a"},{"d":304.6,"e":7.25,"s":"c"},{"d":306.0,"e":7.25,"s":"c"},{"d":308.3,"e":7.25,"s":"a"},{"d":306.5,"e":6.97,"s":"a"},{"d":304.2,"e":6.63,"s":"b"},{"d":305.1,"e":6.63,"s":"b"},{"d":306.0,"e":6.63,"s":"b"},{"d":306.9,"e":6.03,"s":"b"},{"d":307.9,"e":8.74,"s":"c"},{"d":309.0,"e":8.74,"s":"a"},{"d":307.9,"e":8.44,"s":"b"},{"d":310.2,"e":8.14,"s":"a"},{"d":314.0,"e":9.04,"s":"b"},{"d":314.8,"e":9.04,"s":"a"},{"d":315.8,"e":9.04,"s":"b"},{"d":319.0,"e":9.04,"s":"b"},{"d":320.1,"e":9.04,"s":"c"},{"d":320.1,"e":8.44,"s":"a"},{"d":322.1,"e":8.44,"s":"c"},{"d":322.9,"e":8.74,"s":"a"},{"d":323.2,"e":9.04,"s":"c"},{"d":324.1,"e":8.74,"s":"a"},{"d":326.1,"e":8.74,"s":"b"},{"d":315.1,"e":7.25,"s":"a"},{"d":317.2,"e":7.25,"s":"a"},{"d":318.1,"e":6.63,"s":"a"},{"d":317.2,"e":8.14,"s":"b"},{"d":319.9,"e":7.25,"s":"b"},{"d":322.1,"e":7.53,"s":"b"},{"d":323.2,"e":7.25,"s":"b"},{"d":325.0,"e":8.14,"s":"b"},{"d":324.1,"e":7.85,"s":"a"},{"d":325.0,"e":7.53,"s":"a"},{"d":326.1,"e":11.16,"s":"c"},{"d":328.1,"e":7.53,"s":"c"},{"d":327.2,"e":6.97,"s":"a"},{"d":324.1,"e":6.63,"s":"b"},{"d":326.1,"e":6.63,"s":"c"},{"d":327.2,"e":6.63,"s":"c"},{"d":328.1,"e":6.63,"s":"b"},{"d":327.2,"e":6.03,"s":"b"},{"d":328.1,"e":5.43,"s":"a"},{"d":321.1,"e":5.72,"s":"b"},{"d":321.1,"e":4.83,"s":"a"},{"d":321.1,"e":4.52,"s":"c"},{"d":329.0,"e":9.65,"s":"c"},{"d":330.1,"e":9.65,"s":"c"},{"d":331.1,"e":9.04,"s":"c"},{"d":332.2,"e":9.04,"s":"c"},{"d":331.1,"e":8.74,"s":"b"},{"d":329.0,"e":8.44,"s":"b"},{"d":330.1,"e":7.85,"s":"b"},{"d":330.1,"e":8.14,"s":"a"},{"d":331.1,"e":8.14,"s":"a"},{"d":333.1,"e":8.14,"s":"b"},{"d":332.2,"e":7.53,"s":"b"},{"d":333.1,"e":7.25,"s":"a"},{"d":335.0,"e":7.25,"s":"b"},{"d":336.1,"e":7.85,"s":"b"},{"d":338.0,"e":7.25,"s":"c"},{"d":337.1,"e":6.97,"s":"a"},{"d":337.1,"e":6.63,"s":"b"},{"d":334.1,"e":6.34,"s":"a"},{"d":334.1,"e":6.03,"s":"c"},{"d":335.9,"e":6.03,"s":"c"},{"d":338.0,"e":6.03,"s":"a"},{"d":338.0,"e":6.34,"s":"b"},{"d":338.9,"e":6.34,"s":"b"},{"d":339.8,"e":6.34,"s":"c"},{"d":340.9,"e":6.34,"s":"b"},{"d":341.9,"e":6.34,"s":"c"},{"d":342.9,"e":6.34,"s":"b"},{"d":339.8,"e":6.03,"s":"b"},{"d":340.9,"e":6.03,"s":"b"},{"d":341.9,"e":6.03,"s":"b"},{"d":342.9,"e":6.03,"s":"b"},{"d":339.2,"e":5.72,"s":"a"},{"d":339.4,"e":6.63,"s":"c"},{"d":344.0,"e":6.63,"s":"c"},{"d":345.9,"e":6.63,"s":"c"},{"d":342.9,"e":8.14,"s":"c"},{"d":334.1,"e":5.43,"s":"b"},{"d":335.0,"e":5.43,"s":"b"},{"d":336.1,"e":4.83,"s":"a"},{"d":344.0,"e":5.43,"s":"a"},{"d":345.9,"e":5.43,"s":"a"},{"d":344.9,"e":5.72,"s":"b"},{"d":345.9,"e":5.72,"s":"b"},{"d":347.0,"e":5.72,"s":"b"},{"d":347.0,"e":6.03,"s":"c"},{"d":348.0,"e":5.43,"s":"b"},{"d":344.0,"e":5.12,"s":"b"},{"d":344.9,"e":5.12,"s":"b"},{"d":344.9,"e":4.83,"s":"a"},{"d":348.9,"e":7.85,"s":"c"},{"d":350.0,"e":8.14,"s":"c"},{"d":350.0,"e":7.25,"s":"b"},{"d":349.1,"e":6.97,"s":"a"},{"d":349.1,"e":6.63,"s":"b"},{"d":350.0,"e":6.03,"s":"b"},{"d":350.9,"e":6.03,"s":"b"},{"d":352.2,"e":6.63,"s":"c"},{"d":353.1,"e":7.53,"s":"c"},{"d":354.2,"e":7.53,"s":"c"},{"d":355.2,"e":7.25,"s":"c"},{"d":355.2,"e":6.97,"s":"a"},{"d":354.2,"e":6.34,"s":"b"},{"d":352.2,"e":5.43,"s":"a"},{"d":353.1,"e":5.12,"s":"b"},{"d":352.2,"e":4.52,"s":"b"},{"d":355.2,"e":5.43,"s":"b"},{"d":356.1,"e":5.43,"s":"b"},{"d":356.1,"e":5.12,"s":"c"},{"d":357.0,"e":6.63,"s":"c"},{"d":357.9,"e":5.72,"s":"c"},{"d":357.2,"e":5.72,"s":"a"},{"d":357.2,"e":6.03,"s":"b"},{"d":360.2,"e":6.03,"s":"b"},{"d":357.9,"e":4.23,"s":"a"},{"d":358.2,"e":4.52,"s":"b"},{"d":359.1,"e":4.23,"s":"b"},{"d":359.0,"e":3.61,"s":"a"},{"d":360.1,"e":6.97,"s":"c"},{"d":362.1,"e":6.63,"s":"c"},{"d":362.1,"e":6.34,"s":"b"},{"d":360.0,"e":5.12,"s":"a"},{"d":361.0,"e":5.12,"s":"b"},{"d":361.2,"e":5.43,"s":"c"},{"d":362.1,"e":5.72,"s":"a"},{"d":363.0,"e":6.03,"s":"a"},{"d":363.0,"e":5.43,"s":"b"},{"d":363.9,"e":5.43,"s":"b"},{"d":363.9,"e":3.61,"s":"a"},{"d":363.9,"e":6.97,"s":"c"},{"d":365.1,"e":7.25,"s":"c"},{"d":364.9,"e":6.34,"s":"b"},{"d":366.3,"e":6.34,"s":"c"},{"d":367.2,"e":6.34,"s":"c"},{"d":368.1,"e":6.34,"s":"c"},{"d":368.1,"e":6.97,"s":"c"},{"d":368.1,"e":7.25,"s":"a"},{"d":367.0,"e":5.43,"s":"b"},{"d":365.2,"e":5.72,"s":"a"},{"d":366.3,"e":5.72,"s":"a"},{"d":369.0,"e":5.72,"s":"a"},{"d":366.2,"e":4.52,"s":"b"},{"d":367.2,"e":4.23,"s":"a"},{"d":369.0,"e":8.44,"s":"c"},{"d":369.0,"e":8.14,"s":"b"}
],
"lam": [
{"t":-16,"e":1.9},{"t":-14,"e":2.3},{"t":-12,"e":2.7},{"t":-10,"e":3.1},{"t":-8,"e":3.6},{"t":-6,"e":4.1},{"t":-4,"e":4.7},{"t":-2,"e":5.3},{"t":0,"e":6.1},{"t":2,"e":7.0},{"t":4,"e":8.0},{"t":6,"e":9.2},{"t":8,"e":10.6},{"t":10,"e":12.1},{"t":12,"e":13.8},{"t":14,"e":15.6},{"t":16,"e":17.6},{"t":18,"e":19.9},{"t":20,"e":22.3},{"t":20.7,"e":23.0}
],
"s07": [
{"t":23.1,"e":17.2},{"t":17.8,"e":16.9},{"t":17.4,"e":16.3},{"t":17.6,"e":15.7},{"t":18.8,"e":15.7},{"t":19.0,"e":15.7},{"t":21.2,"e":15.7},{"t":18.0,"e":15.1},{"t":18.5,"e":15.1},{"t":17.5,"e":14.8},{"t":18.4,"e":14.8},{"t":19.2,"e":14.8},{"t":21.1,"e":14.8},{"t":12.7,"e":14.8},{"t":13.2,"e":14.8},{"t":13.9,"e":14.5},{"t":14.4,"e":14.5},{"t":16.9,"e":14.5},{"t":17.5,"e":14.5},{"t":13.0,"e":14.2},{"t":13.3,"e":14.2},{"t":14.2,"e":14.2},{"t":14.5,"e":14.2},{"t":17.3,"e":14.2},{"t":15.2,"e":13.9},{"t":15.9,"e":13.9},{"t":16.1,"e":13.9},{"t":17.3,"e":13.9},{"t":11.5,"e":13.6},{"t":12.5,"e":13.6},{"t":16.7,"e":13.6},{"t":18.7,"e":13.6},{"t":11.4,"e":13.3},{"t":12.3,"e":13.3},{"t":13.7,"e":13.3},{"t":14.9,"e":13.3},{"t":16.6,"e":13.3},{"t":19.6,"e":13.3},{"t":19.9,"e":13.3},{"t":11.5,"e":13.0},{"t":12.2,"e":13.0},{"t":12.5,"e":13.0},{"t":13.7,"e":12.7},{"t":14.3,"e":12.7},{"t":17.0,"e":12.7},{"t":17.5,"e":12.7},{"t":10.3,"e":12.4},{"t":10.9,"e":12.4},{"t":11.5,"e":12.4},{"t":11.9,"e":12.4},{"t":12.7,"e":12.4},{"t":19.1,"e":12.4},{"t":13.7,"e":12.1},{"t":14.0,"e":12.1},{"t":14.7,"e":12.1},{"t":15.7,"e":12.1},{"t":16.2,"e":12.1},{"t":18.8,"e":12.1},{"t":19.1,"e":12.1},{"t":10.2,"e":11.8},{"t":10.9,"e":11.8},{"t":11.5,"e":11.8},{"t":13.0,"e":11.8},{"t":13.9,"e":11.8},{"t":15.5,"e":11.8},{"t":18.4,"e":11.8},{"t":8.6,"e":11.5},{"t":9.1,"e":11.5},{"t":9.5,"e":11.5},{"t":9.9,"e":11.5},{"t":10.6,"e":11.5},{"t":10.9,"e":11.5},{"t":11.5,"e":11.5},{"t":13.4,"e":11.5},{"t":15.1,"e":11.5},{"t":16.2,"e":11.5},{"t":18.7,"e":11.5},{"t":8.9,"e":11.2},{"t":10.9,"e":11.2},{"t":11.3,"e":11.2},{"t":11.9,"e":11.2},{"t":13.0,"e":11.2},{"t":11.1,"e":10.9},{"t":11.5,"e":10.9},{"t":12.5,"e":10.9},{"t":9.7,"e":10.9},{"t":14.3,"e":10.9},{"t":10.0,"e":10.6},{"t":10.7,"e":10.6},{"t":12.1,"e":10.6},{"t":12.6,"e":10.6},{"t":13.2,"e":10.6},{"t":16.5,"e":10.6},{"t":19.2,"e":10.6},{"t":7.5,"e":10.3},{"t":11.0,"e":10.3},{"t":11.7,"e":10.3},{"t":12.2,"e":10.3},{"t":14.2,"e":10.3},{"t":9.2,"e":10.3},{"t":9.1,"e":10.0},{"t":10.0,"e":10.0},{"t":6.6,"e":9.7},{"t":7.7,"e":9.7},{"t":8.2,"e":9.7},{"t":9.7,"e":9.7},{"t":7.8,"e":9.4},{"t":8.8,"e":9.4},{"t":9.5,"e":9.4},{"t":11.7,"e":9.4},{"t":13.6,"e":9.4},{"t":8.0,"e":9.1},{"t":10.5,"e":9.1},{"t":10.7,"e":9.1},{"t":11.9,"e":9.1},{"t":12.6,"e":9.1},{"t":6.1,"e":9.1},{"t":6.0,"e":8.8},{"t":6.2,"e":8.8},{"t":6.8,"e":8.8},{"t":7.2,"e":8.8},{"t":4.9,"e":8.8},{"t":11.9,"e":8.8},{"t":4.0,"e":8.5},{"t":4.4,"e":8.5},{"t":6.0,"e":8.5},{"t":7.3,"e":8.5},{"t":7.6,"e":8.5},{"t":15.6,"e":8.5},{"t":4.5,"e":8.2},{"t":4.9,"e":8.2},{"t":5.6,"e":8.2},{"t":6.0,"e":8.2},{"t":6.4,"e":8.2},{"t":6.9,"e":8.2},{"t":7.4,"e":8.2},{"t":9.7,"e":8.2},{"t":15.3,"e":8.2},{"t":4.8,"e":7.9},{"t":8.0,"e":7.9},{"t":9.2,"e":7.9},{"t":10.2,"e":7.9},{"t":10.9,"e":7.9},{"t":10.7,"e":7.6},{"t":11.0,"e":7.6},{"t":11.3,"e":7.6},{"t":-2.4,"e":7.6},{"t":-0.5,"e":7.9},{"t":6.0,"e":7.6},{"t":6.5,"e":7.6},{"t":7.4,"e":7.6},{"t":1.5,"e":7.3},{"t":1.9,"e":7.3},{"t":2.3,"e":7.3},{"t":2.7,"e":7.3},{"t":3.3,"e":7.3},{"t":5.0,"e":7.3},{"t":5.6,"e":7.3},{"t":7.4,"e":7.3},{"t":12.3,"e":7.3},{"t":1.3,"e":7.0},{"t":1.7,"e":7.0},{"t":2.1,"e":7.0},{"t":2.5,"e":7.0},{"t":3.1,"e":7.0},{"t":4.0,"e":7.0},{"t":4.8,"e":7.0},{"t":-1.5,"e":7.0},{"t":10.9,"e":7.0},{"t":11.3,"e":7.0},{"t":11.5,"e":7.0},{"t":0.9,"e":6.7},{"t":1.9,"e":6.7},{"t":3.2,"e":6.7},{"t":4.6,"e":6.7},{"t":5.3,"e":6.7},{"t":5.8,"e":6.7},{"t":6.8,"e":6.7},{"t":7.6,"e":6.7},{"t":8.6,"e":6.7},{"t":10.4,"e":6.7},{"t":-1.1,"e":6.4},{"t":0.4,"e":6.4},{"t":1.1,"e":6.4},{"t":1.7,"e":6.4},{"t":2.3,"e":6.4},{"t":4.5,"e":6.4},{"t":6.2,"e":6.4},{"t":7.6,"e":6.4},{"t":-1.5,"e":6.1},{"t":-1.1,"e":6.1},{"t":-0.7,"e":6.1},{"t":-0.1,"e":6.1},{"t":0.3,"e":6.1},{"t":0.8,"e":6.1},{"t":2.0,"e":6.1},{"t":2.8,"e":6.1},{"t":4.6,"e":6.1},{"t":5.0,"e":6.1},{"t":-1.9,"e":5.8},{"t":-0.4,"e":5.8},{"t":0.5,"e":5.8},{"t":3.2,"e":5.8},{"t":3.6,"e":5.8},{"t":3.8,"e":5.8},{"t":4.9,"e":5.8},{"t":6.1,"e":5.8},{"t":-2.8,"e":5.5},{"t":-1.7,"e":5.5},{"t":0.9,"e":5.5},{"t":2.7,"e":5.5},{"t":4.1,"e":5.5},{"t":4.8,"e":5.5},{"t":5.6,"e":5.5},{"t":7.5,"e":5.5},{"t":-4.6,"e":5.2},{"t":-4.0,"e":5.2},{"t":-3.3,"e":5.2},{"t":-2.8,"e":5.2},{"t":-2.3,"e":5.2},{"t":-1.7,"e":5.2},{"t":1.6,"e":5.2},{"t":1.9,"e":5.2},{"t":4.4,"e":5.2},{"t":4.7,"e":5.2},{"t":5.7,"e":5.2},{"t":-4.4,"e":4.9},{"t":-3.8,"e":4.9},{"t":-3.2,"e":4.9},{"t":-2.8,"e":4.9},{"t":3.3,"e":4.9},{"t":7.2,"e":4.9},{"t":8.4,"e":4.9},{"t":8.5,"e":4.9},{"t":9.8,"e":4.9},{"t":-5.2,"e":4.6},{"t":-4.8,"e":4.6},{"t":-4.1,"e":4.6},{"t":-3.6,"e":4.6},{"t":-2.3,"e":4.6},{"t":-2.0,"e":4.6},{"t":-0.9,"e":4.6},{"t":0.6,"e":4.6},{"t":-6.6,"e":4.3},{"t":-5.7,"e":4.3},{"t":-5.3,"e":4.3},{"t":-4.4,"e":4.3},{"t":-3.7,"e":4.3},{"t":-3.5,"e":4.3},{"t":2.5,"e":4.3},{"t":7.0,"e":4.3},{"t":-7.4,"e":4.0},{"t":-6.6,"e":4.0},{"t":-6.0,"e":4.0},{"t":0.7,"e":4.0},{"t":3.2,"e":4.0},{"t":3.3,"e":4.0},{"t":-8.0,"e":3.7},{"t":-6.6,"e":3.7},{"t":-1.2,"e":3.7},{"t":3.5,"e":3.7},{"t":6.4,"e":3.7},{"t":-9.2,"e":3.4},{"t":-8.8,"e":3.4},{"t":-8.4,"e":3.4},{"t":-7.8,"e":3.4},{"t":-11.9,"e":3.1},{"t":-10.3,"e":3.1},{"t":-8.8,"e":3.1},{"t":1.9,"e":3.1},{"t":-11.6,"e":2.8},{"t":5.0,"e":2.8},{"t":-12.9,"e":2.2}
],
"s14": [
{"t":23.4,"e":18.4},{"t":20.4,"e":17.8},{"t":21.9,"e":17.5},{"t":18.2,"e":16.9},{"t":23.1,"e":16.9},{"t":23.0,"e":16.6},{"t":22.6,"e":16.3},{"t":20.4,"e":16.3},{"t":21.9,"e":16.0},{"t":14.2,"e":16.0},{"t":14.8,"e":16.0},{"t":15.3,"e":16.0},{"t":17.9,"e":16.0},{"t":19.0,"e":15.7},{"t":21.2,"e":15.7},{"t":23.3,"e":15.7},{"t":25.4,"e":15.7},{"t":18.4,"e":15.4},{"t":20.3,"e":15.4},{"t":17.9,"e":15.1},{"t":17.0,"e":15.1},{"t":15.0,"e":15.1},{"t":19.4,"e":15.1},{"t":21.9,"e":15.1},{"t":26.7,"e":15.1},{"t":12.9,"e":14.8},{"t":15.4,"e":14.8},{"t":16.2,"e":14.8},{"t":17.4,"e":14.8},{"t":21.9,"e":14.8},{"t":13.3,"e":14.5},{"t":13.5,"e":14.5},{"t":16.5,"e":14.5},{"t":16.9,"e":14.5},{"t":18.9,"e":14.5},{"t":20.6,"e":14.5},{"t":21.1,"e":14.5},{"t":21.7,"e":14.5},{"t":22.3,"e":14.5},{"t":24.1,"e":14.5},{"t":26.2,"e":14.5},{"t":12.9,"e":14.2},{"t":14.2,"e":14.2},{"t":15.1,"e":14.2},{"t":15.6,"e":14.2},{"t":16.3,"e":14.2},{"t":21.1,"e":14.2},{"t":14.2,"e":13.9},{"t":14.8,"e":13.9},{"t":15.4,"e":13.9},{"t":17.1,"e":13.9},{"t":24.7,"e":13.9},{"t":14.2,"e":13.6},{"t":14.9,"e":13.6},{"t":17.7,"e":13.6},{"t":17.9,"e":13.6},{"t":19.7,"e":13.6},{"t":20.7,"e":13.6},{"t":22.8,"e":13.6},{"t":26.8,"e":13.6},{"t":19.5,"e":13.3},{"t":22.7,"e":13.3},{"t":19.1,"e":13.0},{"t":20.4,"e":13.0},{"t":16.8,"e":13.0},{"t":12.7,"e":12.7},{"t":14.2,"e":12.7},{"t":14.9,"e":12.7},{"t":15.7,"e":12.7},{"t":16.4,"e":12.7},{"t":17.0,"e":12.7},{"t":18.2,"e":12.7},{"t":19.3,"e":12.7},{"t":21.7,"e":12.7},{"t":11.4,"e":12.4},{"t":11.2,"e":12.4},{"t":14.9,"e":12.4},{"t":16.2,"e":12.4},{"t":23.3,"e":12.4},{"t":10.7,"e":12.1},{"t":12.8,"e":12.1},{"t":13.3,"e":12.1},{"t":14.7,"e":12.1},{"t":15.3,"e":12.1},{"t":17.0,"e":12.1},{"t":18.4,"e":12.1},{"t":18.7,"e":12.1},{"t":11.5,"e":11.8},{"t":12.2,"e":11.8},{"t":15.4,"e":11.8},{"t":17.0,"e":11.8},{"t":8.1,"e":11.5},{"t":8.6,"e":11.5},{"t":11.4,"e":11.5},{"t":15.4,"e":11.5},{"t":16.5,"e":11.5},{"t":16.9,"e":11.5},{"t":19.2,"e":11.5},{"t":19.4,"e":11.5},{"t":20.7,"e":11.5},{"t":22.7,"e":11.5},{"t":8.7,"e":11.2},{"t":12.0,"e":11.2},{"t":13.1,"e":11.2},{"t":17.4,"e":11.2},{"t":20.9,"e":11.2},{"t":9.1,"e":10.9},{"t":9.4,"e":10.9},{"t":13.1,"e":10.9},{"t":16.3,"e":10.9},{"t":18.2,"e":10.9},{"t":9.4,"e":10.6},{"t":10.2,"e":10.6},{"t":12.5,"e":10.6},{"t":16.9,"e":10.6},{"t":16.2,"e":10.6},{"t":19.0,"e":10.6},{"t":10.5,"e":10.3},{"t":11.9,"e":10.3},{"t":12.7,"e":10.3},{"t":13.1,"e":10.3},{"t":14.0,"e":10.3},{"t":15.0,"e":10.3},{"t":5.4,"e":10.0},{"t":7.9,"e":10.0},{"t":9.9,"e":10.0},{"t":14.9,"e":10.0},{"t":19.4,"e":10.0},{"t":3.8,"e":9.7},{"t":9.4,"e":9.7},{"t":10.3,"e":9.7},{"t":10.7,"e":9.7},{"t":11.7,"e":9.7},{"t":12.9,"e":9.7},{"t":14.0,"e":9.7},{"t":15.1,"e":9.7},{"t":15.7,"e":9.7},{"t":5.5,"e":9.4},{"t":8.2,"e":9.4},{"t":9.1,"e":9.4},{"t":9.9,"e":9.4},{"t":11.5,"e":9.4},{"t":11.9,"e":9.4},{"t":12.6,"e":9.4},{"t":14.1,"e":9.4},{"t":15.9,"e":9.4},{"t":19.4,"e":9.4},{"t":6.3,"e":9.1},{"t":6.6,"e":9.1},{"t":7.8,"e":9.1},{"t":9.4,"e":9.1},{"t":11.1,"e":9.1},{"t":13.1,"e":9.1},{"t":15.0,"e":9.1},{"t":16.5,"e":9.1},{"t":16.7,"e":9.1},{"t":20.4,"e":9.1},{"t":9.9,"e":8.8},{"t":11.5,"e":8.8},{"t":11.9,"e":8.8},{"t":3.2,"e":8.5},{"t":3.9,"e":8.5},{"t":7.8,"e":8.5},{"t":8.1,"e":8.5},{"t":9.1,"e":8.5},{"t":18.2,"e":8.5},{"t":4.2,"e":8.2},{"t":5.3,"e":8.2},{"t":5.5,"e":8.2},{"t":7.0,"e":8.2},{"t":10.3,"e":8.2},{"t":11.8,"e":8.2},{"t":13.1,"e":8.2},{"t":14.4,"e":8.2},{"t":3.0,"e":8.2},{"t":-2.9,"e":7.9},{"t":3.0,"e":7.9},{"t":3.5,"e":7.9},{"t":4.2,"e":7.9},{"t":7.5,"e":7.9},{"t":7.9,"e":7.9},{"t":8.3,"e":7.9},{"t":9.4,"e":7.9},{"t":11.1,"e":7.9},{"t":1.9,"e":7.6},{"t":3.1,"e":7.6},{"t":3.5,"e":7.6},{"t":8.9,"e":7.6},{"t":9.4,"e":7.6},{"t":11.9,"e":7.6},{"t":14.0,"e":7.6},{"t":18.2,"e":7.6},{"t":3.1,"e":7.3},{"t":3.9,"e":7.3},{"t":5.8,"e":7.3},{"t":7.0,"e":7.3},{"t":7.4,"e":7.3},{"t":8.7,"e":7.3},{"t":-2.2,"e":7.0},{"t":-1.0,"e":7.0},{"t":0.3,"e":7.0},{"t":1.1,"e":7.0},{"t":1.5,"e":7.0},{"t":3.0,"e":7.0},{"t":4.1,"e":7.0},{"t":5.7,"e":7.0},{"t":7.0,"e":7.0},{"t":8.7,"e":7.0},{"t":9.3,"e":7.0},{"t":11.9,"e":7.0},{"t":-0.2,"e":6.7},{"t":0.3,"e":6.7},{"t":1.8,"e":6.7},{"t":2.8,"e":6.7},{"t":3.5,"e":6.7},{"t":6.1,"e":6.7},{"t":7.0,"e":6.7},{"t":7.8,"e":6.7},{"t":8.9,"e":6.7},{"t":9.4,"e":6.7},{"t":11.5,"e":6.7},{"t":-1.0,"e":6.4},{"t":-0.6,"e":6.4},{"t":0.2,"e":6.4},{"t":0.8,"e":6.4},{"t":1.5,"e":6.4},{"t":2.1,"e":6.4},{"t":3.7,"e":6.4},{"t":4.0,"e":6.4},{"t":5.0,"e":6.4},{"t":8.9,"e":6.4},{"t":9.4,"e":6.4},{"t":10.9,"e":6.4},{"t":-1.8,"e":6.1},{"t":-1.1,"e":6.1},{"t":-0.7,"e":6.1},{"t":-0.2,"e":6.1},{"t":0.6,"e":6.1},{"t":3.5,"e":6.1},{"t":5.6,"e":6.1},{"t":6.6,"e":6.1},{"t":7.9,"e":6.1},{"t":11.6,"e":6.1},{"t":-2.9,"e":5.8},{"t":-2.2,"e":5.8},{"t":-0.9,"e":5.8},{"t":0.6,"e":5.8},{"t":2.5,"e":5.8},{"t":4.8,"e":5.8},{"t":5.6,"e":5.8},{"t":7.1,"e":5.8},{"t":11.8,"e":5.8},{"t":11.9,"e":5.8},{"t":-2.0,"e":5.5},{"t":-1.5,"e":5.5},{"t":-1.1,"e":5.5},{"t":1.5,"e":5.5},{"t":8.1,"e":5.5},{"t":-2.6,"e":5.2},{"t":-1.9,"e":5.2},{"t":-0.9,"e":5.2},{"t":0.6,"e":5.2},{"t":1.1,"e":5.2},{"t":2.6,"e":5.2},{"t":4.3,"e":5.2},{"t":8.1,"e":5.2},{"t":9.1,"e":5.2},{"t":-6.1,"e":4.9},{"t":-3.8,"e":4.9},{"t":-3.5,"e":4.9},{"t":0.2,"e":4.9},{"t":4.3,"e":4.9},{"t":6.5,"e":4.9},{"t":6.7,"e":4.9},{"t":-5.7,"e":4.6},{"t":0.3,"e":4.6},{"t":4.2,"e":4.6},{"t":4.5,"e":4.6},{"t":5.2,"e":4.6},{"t":11.1,"e":4.6},{"t":-4.6,"e":4.3},{"t":-5.2,"e":4.3},{"t":-5.5,"e":4.3},{"t":1.1,"e":4.3},{"t":4.3,"e":4.3},{"t":9.3,"e":4.3},{"t":-5.3,"e":4.0},{"t":-3.3,"e":4.0},{"t":-2.9,"e":4.0},{"t":1.1,"e":4.0},{"t":2.2,"e":4.0},{"t":-9.0,"e":3.7},{"t":-8.6,"e":3.7},{"t":-7.0,"e":3.7},{"t":-1.9,"e":3.7},{"t":-8.9,"e":3.4},{"t":4.5,"e":3.4}
],
"s21": [
{"t":20.7,"e":17.73},{"t":16.6,"e":17.43},{"t":18.0,"e":17.13},{"t":23.1,"e":15.03},{"t":19.2,"e":15.63},{"t":17.0,"e":15.93},{"t":15.4,"e":15.93},{"t":15.0,"e":16.23},{"t":16.5,"e":15.33},{"t":17.4,"e":15.33},{"t":17.4,"e":15.03},{"t":15.7,"e":14.73},{"t":14.0,"e":15.03},{"t":14.7,"e":14.43},{"t":15.3,"e":14.12},{"t":17.5,"e":14.12},{"t":17.7,"e":14.12},{"t":18.6,"e":14.43},{"t":13.1,"e":14.73},{"t":13.1,"e":14.12},{"t":12.1,"e":14.12},{"t":11.7,"e":13.82},{"t":12.1,"e":13.82},{"t":11.5,"e":13.52},{"t":12.5,"e":13.52},{"t":13.8,"e":13.52},{"t":14.2,"e":13.52},{"t":17.8,"e":13.52},{"t":18.8,"e":13.82},{"t":11.9,"e":13.22},{"t":12.7,"e":13.22},{"t":14.1,"e":13.22},{"t":14.5,"e":13.22},{"t":16.6,"e":13.22},{"t":17.8,"e":13.22},{"t":18.9,"e":13.22},{"t":19.0,"e":12.92},{"t":12.4,"e":12.92},{"t":13.1,"e":12.62},{"t":14.2,"e":12.62},{"t":14.5,"e":12.62},{"t":16.5,"e":12.62},{"t":12.2,"e":12.32},{"t":11.9,"e":12.32},{"t":13.6,"e":12.32},{"t":9.2,"e":12.02},{"t":9.8,"e":12.02},{"t":10.7,"e":12.02},{"t":12.3,"e":12.02},{"t":12.7,"e":12.02},{"t":12.9,"e":12.02},{"t":14.0,"e":12.02},{"t":14.7,"e":12.02},{"t":15.9,"e":12.02},{"t":18.9,"e":12.02},{"t":20.8,"e":12.02},{"t":15.1,"e":11.72},{"t":11.5,"e":11.72},{"t":11.7,"e":11.72},{"t":9.3,"e":11.42},{"t":11.5,"e":11.42},{"t":12.0,"e":11.12},{"t":12.5,"e":11.12},{"t":8.3,"e":11.12},{"t":15.4,"e":11.12},{"t":16.6,"e":11.42},{"t":17.6,"e":11.12},{"t":15.7,"e":10.52},{"t":16.1,"e":10.52},{"t":17.9,"e":10.82},{"t":17.9,"e":10.52},{"t":14.3,"e":10.82},{"t":14.1,"e":10.52},{"t":9.3,"e":10.82},{"t":11.6,"e":10.52},{"t":15.8,"e":11.42},{"t":9.7,"e":10.52},{"t":9.4,"e":10.52},{"t":8.0,"e":10.52},{"t":6.9,"e":10.22},{"t":8.0,"e":10.22},{"t":8.8,"e":10.22},{"t":10.0,"e":10.22},{"t":10.6,"e":10.22},{"t":14.2,"e":10.22},{"t":14.2,"e":9.92},{"t":14.4,"e":9.92},{"t":9.2,"e":9.92},{"t":9.9,"e":9.92},{"t":10.3,"e":9.92},{"t":14.0,"e":9.92},{"t":10.8,"e":9.62},{"t":12.0,"e":9.62},{"t":9.9,"e":9.62},{"t":9.8,"e":9.32},{"t":9.7,"e":8.72},{"t":11.2,"e":8.72},{"t":12.2,"e":8.72},{"t":12.1,"e":9.02},{"t":15.4,"e":9.02},{"t":16.1,"e":9.02},{"t":9.5,"e":9.02},{"t":6.8,"e":9.62},{"t":6.6,"e":9.32},{"t":5.9,"e":9.02},{"t":6.9,"e":9.32},{"t":7.7,"e":9.32},{"t":7.9,"e":9.02},{"t":7.3,"e":8.72},{"t":6.9,"e":8.72},{"t":7.6,"e":8.41},{"t":7.7,"e":8.11},{"t":9.0,"e":8.41},{"t":9.3,"e":8.11},{"t":9.0,"e":7.81},{"t":7.8,"e":7.81},{"t":8.9,"e":8.72},{"t":6.0,"e":8.41},{"t":5.4,"e":8.41},{"t":4.9,"e":8.11},{"t":3.9,"e":8.41},{"t":4.2,"e":8.11},{"t":5.3,"e":8.11},{"t":5.3,"e":7.81},{"t":4.2,"e":7.81},{"t":4.5,"e":7.51},{"t":4.2,"e":7.21},{"t":6.8,"e":7.81},{"t":6.5,"e":7.51},{"t":7.5,"e":7.51},{"t":6.9,"e":7.21},{"t":7.7,"e":7.21},{"t":5.6,"e":6.91},{"t":4.2,"e":6.91},{"t":2.0,"e":6.91},{"t":2.1,"e":6.61},{"t":3.1,"e":6.31},{"t":1.5,"e":6.31},{"t":3.4,"e":6.01},{"t":4.2,"e":5.71},{"t":4.5,"e":5.71},{"t":3.9,"e":5.56},{"t":4.5,"e":6.01},{"t":5.5,"e":6.31},{"t":6.8,"e":6.31},{"t":6.9,"e":6.61},{"t":6.0,"e":6.61},{"t":5.6,"e":6.01},{"t":6.6,"e":5.71},{"t":6.9,"e":5.71},{"t":7.7,"e":6.01},{"t":9.3,"e":6.61},{"t":9.3,"e":6.01},{"t":9.5,"e":5.71},{"t":5.5,"e":5.41},{"t":5.6,"e":5.11},{"t":5.2,"e":5.41},{"t":5.8,"e":5.11},{"t":3.9,"e":5.41},{"t":4.3,"e":5.11},{"t":4.9,"e":5.11},{"t":4.6,"e":4.81},{"t":5.7,"e":4.51},{"t":7.3,"e":4.51},{"t":8.7,"e":5.11},{"t":10.2,"e":5.11},{"t":7.1,"e":6.01},{"t":11.2,"e":7.21},{"t":12.7,"e":4.51},{"t":9.4,"e":6.31},{"t":2.7,"e":4.81},{"t":2.6,"e":5.41},{"t":2.0,"e":5.71},{"t":2.7,"e":6.01},{"t":1.2,"e":6.01},{"t":1.0,"e":5.71},{"t":0.5,"e":5.71},{"t":-0.3,"e":6.01},{"t":-0.7,"e":6.31},{"t":0.0,"e":6.31},{"t":0.6,"e":6.61},{"t":1.5,"e":6.61},{"t":0.4,"e":6.91},{"t":1.9,"e":6.31},{"t":-0.2,"e":5.71},{"t":-0.8,"e":5.41},{"t":-1.5,"e":5.71},{"t":-2.3,"e":5.71},{"t":-2.1,"e":5.41},{"t":-1.7,"e":5.11},{"t":-1.2,"e":5.41},{"t":-1.0,"e":6.01},{"t":-1.9,"e":6.01},{"t":-2.3,"e":5.11},{"t":-2.7,"e":5.41},{"t":-2.6,"e":4.81},{"t":-3.4,"e":4.81},{"t":-3.1,"e":4.51},{"t":-4.1,"e":4.51},{"t":-4.4,"e":4.81},{"t":-4.9,"e":4.81},{"t":-5.7,"e":4.51},{"t":-6.2,"e":4.21},{"t":-5.4,"e":4.21},{"t":-5.0,"e":4.21},{"t":-4.6,"e":4.21},{"t":-6.1,"e":3.61},{"t":-6.6,"e":3.61},{"t":-7.3,"e":3.61},{"t":-7.3,"e":3.31},{"t":-7.9,"e":3.31},{"t":-8.4,"e":3.31},{"t":-8.4,"e":3.01},{"t":-9.8,"e":2.7},{"t":-10.4,"e":3.01},{"t":-11.6,"e":3.01},{"t":-11.9,"e":2.7},{"t":-5.7,"e":3.91},{"t":-4.6,"e":3.91},{"t":-1.7,"e":6.91},{"t":-0.8,"e":4.81},{"t":-1.7,"e":4.81},{"t":-0.7,"e":4.51},{"t":0.4,"e":4.81},{"t":1.2,"e":4.51},{"t":1.9,"e":4.51},{"t":1.2,"e":3.61},{"t":2.4,"e":3.91},{"t":2.9,"e":3.91},{"t":2.3,"e":3.31},{"t":3.3,"e":3.01},{"t":3.3,"e":4.81},{"t":3.7,"e":6.31},{"t":3.2,"e":6.61},{"t":0.8,"e":5.41},{"t":0.0,"e":5.11},{"t":-0.5,"e":5.11},{"t":-1.7,"e":3.01},{"t":8.4,"e":4.21},{"t":6.6,"e":4.21},{"t":5.3,"e":3.91},{"t":4.1,"e":3.91}
]
},
"spacing": 39,
"vconcat": [
{
  "width": 1316, "height": 530,
  "layer": [
    {
      "data": {"values": []},
      "mark": {"type": "point", "opacity": 0},
      "encoding": {
        "x": {"field": "d", "type": "quantitative", "axis": {"orient": "bottom", "values": [15,45,75,105,135,165,195,225,255,285,315,345], "tickSize": -12, "labels": false, "title": null}},
        "y": {"field": "e", "type": "quantitative", "axis": {"orient": "left", "values": [2,6,10,14,18], "tickSize": -12, "labels": false, "title": null}}
      }
    },
    {
      "data": {"name": "top"},
      "mark": {"type": "point", "filled": false, "size": 62, "strokeWidth": 1.6, "opacity": 1},
      "encoding": {
        "x": {"field": "d", "type": "quantitative", "scale": {"domain": [3, 369], "nice": false, "zero": false},
              "axis": {"orient": "bottom", "values": [30,60,90,120,150,180,210,240,270,300,330,360], "tickSize": -20, "labelPadding": 61, "labelBaseline": "middle", "title": "Tag des Jahres", "titleBaseline": "middle", "titleX": 658, "titleY": 76}},
        "y": {"field": "e", "type": "quantitative", "scale": {"domain": [0, 20], "nice": false, "zero": false},
              "axis": {"orient": "left", "values": [0,4,8,12,16,20], "tickSize": -20, "labelPadding": 38, "title": "Dampfdruck hPa", "titleBaseline": "middle", "titleX": -89, "titleY": 265}},
        "color": {"field": "s", "type": "nominal",
                  "scale": {"domain": ["a","b","c"], "range": ["#000000","#0000ff","#ff0000"]},
                  "legend": {"orient": "none", "legendX": 51, "legendY": 46, "title": "Jahresgang alle Termine",
                             "titleFont": "Liberation Serif", "titleFontSize": 28, "titleFontWeight": "normal", "titleColor": "#000000", "titlePadding": 8, "titleLimit": 800,
                             "labelFont": "Liberation Sans", "labelFontSize": 25, "labelColor": "#000000", "labelOffset": 16, "labelLimit": 800,
                             "symbolType": "M-1,0L1,0M0,-1L0,1", "symbolSize": 170, "symbolStrokeWidth": 2, "symbolFillColor": "transparent",
                             "rowPadding": 7, "padding": 0,
                             "labelExpr": "datum.value == 'a' ? 'Dampfdruck 07:00 Uhr 1852' : datum.value == 'b' ? 'Dampfdruck 14:00 Uhr' : 'Dampfdruck 21:00 Uhr'"}}
      }
    }
  ],
  "resolve": {"axis": {"x": "independent", "y": "independent"}}
},
{
  "spacing": 44,
  "vconcat": [
    {
      "spacing": 21.5,
      "hconcat": [
        {
          "width": 628, "height": 630,
          "layer": [
            {
              "data": {"name": "lam"},
              "mark": {"type": "line", "color": "#333333", "strokeWidth": 1.2, "interpolate": "monotone"},
              "encoding": {
                "x": {"field": "t", "type": "quantitative", "scale": {"domain": [-20, 30], "nice": false, "zero": false}, "axis": {"orient": "bottom", "values": [-15,-5,5,15,25], "tickSize": -10, "labels": false, "title": null}},
                "y": {"field": "e", "type": "quantitative", "scale": {"domain": [0, 25], "nice": false, "zero": false}, "axis": {"orient": "left", "values": [2.5,7.5,12.5,17.5,22.5], "tickSize": -10, "labels": false, "title": null}}
              }
            },
            {
              "data": {"name": "s21"},
              "mark": {"type": "point", "filled": false, "size": 60, "strokeWidth": 1.6, "color": "#000000", "opacity": 1},
              "encoding": {
                "x": {"field": "t", "type": "quantitative", "axis": {"orient": "bottom", "values": [-20,-10,0,10,20,30], "labelExpr": "'' + datum.value", "tickSize": -17, "labelPadding": 55, "labelBaseline": "middle", "title": "Temperatur °C", "titleBaseline": "middle", "titleX": 314, "titleY": 76}},
                "y": {"field": "e", "type": "quantitative", "axis": {"orient": "left", "values": [0,5,10,15,20,25], "tickSize": -17, "labelPadding": 35, "title": "Dampfdrucl hPa", "titleBaseline": "middle", "titleX": -89, "titleY": 315}}
              }
            },
            {
              "data": {"values": [{}]},
              "mark": {"type": "text", "align": "left", "baseline": "middle", "fontSize": 33, "lineHeight": 38},
              "encoding": {
                "x": {"datum": -15.3, "type": "quantitative", "axis": null},
                "y": {"datum": 22.85, "type": "quantitative", "axis": null},
                "text": {"value": ["e vs T 1852", "21:00 Uhr"]}
              }
            },
            {
              "data": {"values": [{}]},
              "mark": {"type": "text", "align": "left", "baseline": "middle", "fontSize": 27.5, "lineHeight": 31},
              "encoding": {
                "x": {"datum": 6.2, "type": "quantitative", "axis": null},
                "y": {"datum": 23.15, "type": "quantitative", "axis": null},
                "text": {"value": ["Sättigungsdampfdruck", "nach Lamont"]}
              }
            }
          ],
          "resolve": {"axis": {"x": "independent", "y": "independent"}}
        },
        {
          "width": 700, "height": 630,
          "view": {"stroke": null},
          "data": {"values": [{}]},
          "mark": {"type": "text", "fontSize": 80, "fontWeight": "bold", "color": "#8f8f8f", "font": "Liberation Serif", "align": "center", "baseline": "middle"},
          "encoding": {
            "x": {"datum": 0.485, "type": "quantitative", "scale": {"domain": [0, 1]}, "axis": null},
            "y": {"datum": 0.573, "type": "quantitative", "scale": {"domain": [0, 1]}, "axis": null},
            "text": {"value": "1852"}
          }
        }
      ]
    },
    {
      "spacing": 21.5,
      "hconcat": [
        {
          "width": 628, "height": 630,
          "layer": [
            {
              "data": {"name": "lam"},
              "mark": {"type": "line", "color": "#333333", "strokeWidth": 1.2, "interpolate": "monotone"},
              "encoding": {
                "x": {"field": "t", "type": "quantitative", "scale": {"domain": [-20, 30], "nice": false, "zero": false}, "axis": {"orient": "bottom", "values": [-15,-5,5,15,25], "tickSize": -10, "labels": false, "title": null}},
                "y": {"field": "e", "type": "quantitative", "scale": {"domain": [0, 25], "nice": false, "zero": false}, "axis": {"orient": "left", "values": [2.5,7.5,12.5,17.5,22.5], "tickSize": -10, "labels": false, "title": null}}
              }
            },
            {
              "data": {"name": "s07"},
              "mark": {"type": "point", "filled": false, "size": 60, "strokeWidth": 1.6, "color": "#000000", "opacity": 1},
              "encoding": {
                "x": {"field": "t", "type": "quantitative", "axis": {"orient": "bottom", "values": [-20,-10,0,10,20,30], "labelExpr": "'' + datum.value", "tickSize": -17, "labelPadding": 55, "labelBaseline": "middle", "title": "Temperatur °C", "titleBaseline": "middle", "titleX": 314, "titleY": 76}},
                "y": {"field": "e", "type": "quantitative", "axis": {"orient": "left", "values": [0,5,10,15,20,25], "tickSize": -17, "labelPadding": 35, "title": "Dampfdruck hPa", "titleBaseline": "middle", "titleX": -89, "titleY": 315}}
              }
            },
            {
              "data": {"values": [{}]},
              "mark": {"type": "text", "align": "left", "baseline": "middle", "fontSize": 33, "lineHeight": 38},
              "encoding": {
                "x": {"datum": -13.7, "type": "quantitative", "axis": null},
                "y": {"datum": 23.25, "type": "quantitative", "axis": null},
                "text": {"value": ["e vs T 1852", "07:00 Uhr"]}
              }
            },
            {
              "data": {"values": [{}]},
              "mark": {"type": "text", "align": "left", "baseline": "middle", "fontSize": 27.5, "lineHeight": 31},
              "encoding": {
                "x": {"datum": 4.3, "type": "quantitative", "axis": null},
                "y": {"datum": 23.8, "type": "quantitative", "axis": null},
                "text": {"value": ["Sättigungsdampfdruck", "nach Lamont"]}
              }
            }
          ],
          "resolve": {"axis": {"x": "independent", "y": "independent"}}
        },
        {
          "width": 628, "height": 630,
          "layer": [
            {
              "data": {"name": "lam"},
              "mark": {"type": "line", "color": "#333333", "strokeWidth": 1.2, "interpolate": "monotone"},
              "encoding": {
                "x": {"field": "t", "type": "quantitative", "scale": {"domain": [-20, 30], "nice": false, "zero": false}, "axis": {"orient": "bottom", "values": [-15,-5,5,15,25], "tickSize": -10, "labels": false, "title": null}},
                "y": {"field": "e", "type": "quantitative", "scale": {"domain": [0, 25], "nice": false, "zero": false}, "axis": {"orient": "left", "values": [2.5,7.5,12.5,17.5,22.5], "tickSize": -10, "labels": false, "title": null}}
              }
            },
            {
              "data": {"name": "s14"},
              "mark": {"type": "point", "filled": false, "size": 60, "strokeWidth": 1.6, "color": "#000000", "opacity": 1},
              "encoding": {
                "x": {"field": "t", "type": "quantitative", "axis": {"orient": "bottom", "values": [-20,-10,0,10,20,30], "labelExpr": "'' + datum.value", "tickSize": -17, "labelPadding": 55, "labelBaseline": "middle", "title": "Temperatur °C", "titleBaseline": "middle", "titleX": 314, "titleY": 76}},
                "y": {"field": "e", "type": "quantitative", "axis": {"orient": "left", "values": [0,5,10,15,20,25], "tickSize": -17, "labelPadding": 35, "title": "Dampfdruck hPa", "titleBaseline": "middle", "titleX": -89, "titleY": 315}}
              }
            },
            {
              "data": {"values": [{}]},
              "mark": {"type": "text", "align": "left", "baseline": "middle", "fontSize": 33, "lineHeight": 38},
              "encoding": {
                "x": {"datum": -16.7, "type": "quantitative", "axis": null},
                "y": {"datum": 22.9, "type": "quantitative", "axis": null},
                "text": {"value": ["e vs T 1852", "14:00 Uhr"]}
              }
            },
            {
              "data": {"values": [{}]},
              "mark": {"type": "text", "align": "left", "baseline": "middle", "fontSize": 27.5, "lineHeight": 31},
              "encoding": {
                "x": {"datum": 5.1, "type": "quantitative", "axis": null},
                "y": {"datum": 23.45, "type": "quantitative", "axis": null},
                "text": {"value": ["Sättigungsdampfdruck", "nach Lamont"]}
              }
            }
          ],
          "resolve": {"axis": {"x": "independent", "y": "independent"}}
        }
      ]
    }
  ]
}
]
}
